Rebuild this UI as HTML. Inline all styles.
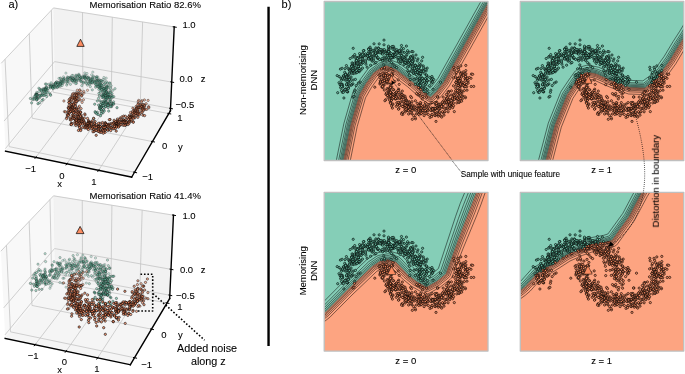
<!DOCTYPE html><html><head><meta charset="utf-8"><style>html,body{margin:0;padding:0;background:#fff;width:685px;height:374px;overflow:hidden}svg{display:block}text{font-family:"Liberation Sans",sans-serif}</style></head><body><svg width="685" height="374" viewBox="0 0 685 374" font-family="'Liberation Sans', sans-serif" font-size="9.5" fill="#000"><defs><style>*{stroke-linejoin:round;stroke-linecap:butt}</style><marker id="mT00" markerUnits="userSpaceOnUse" markerWidth="1" markerHeight="1" overflow="visible"><circle r="1.15" fill="#66c2a5" fill-opacity=".32" stroke="#000" stroke-opacity=".3" stroke-width=".6"/></marker><marker id="mT01" markerUnits="userSpaceOnUse" markerWidth="1" markerHeight="1" overflow="visible"><circle r="1.15" fill="#66c2a5" fill-opacity=".43" stroke="#000" stroke-opacity=".4" stroke-width=".6"/></marker><marker id="mT02" markerUnits="userSpaceOnUse" markerWidth="1" markerHeight="1" overflow="visible"><circle r="1.15" fill="#66c2a5" fill-opacity=".53" stroke="#000" stroke-opacity=".5" stroke-width=".6"/></marker><marker id="mT03" markerUnits="userSpaceOnUse" markerWidth="1" markerHeight="1" overflow="visible"><circle r="1.15" fill="#66c2a5" fill-opacity=".64" stroke="#000" stroke-opacity=".6" stroke-width=".6"/></marker><marker id="mT04" markerUnits="userSpaceOnUse" markerWidth="1" markerHeight="1" overflow="visible"><circle r="1.15" fill="#66c2a5" fill-opacity=".74" stroke="#000" stroke-opacity=".7" stroke-width=".6"/></marker><marker id="mT11" markerUnits="userSpaceOnUse" markerWidth="1" markerHeight="1" overflow="visible"><circle r="1.15" fill="#fc8d62" fill-opacity=".43" stroke="#000" stroke-opacity=".52" stroke-width=".6"/></marker><marker id="mT12" markerUnits="userSpaceOnUse" markerWidth="1" markerHeight="1" overflow="visible"><circle r="1.15" fill="#fc8d62" fill-opacity=".53" stroke="#000" stroke-opacity=".65" stroke-width=".6"/></marker><marker id="mT13" markerUnits="userSpaceOnUse" markerWidth="1" markerHeight="1" overflow="visible"><circle r="1.15" fill="#fc8d62" fill-opacity=".64" stroke="#000" stroke-opacity=".78" stroke-width=".6"/></marker><marker id="mT14" markerUnits="userSpaceOnUse" markerWidth="1" markerHeight="1" overflow="visible"><circle r="1.15" fill="#fc8d62" fill-opacity=".74" stroke="#000" stroke-opacity=".91" stroke-width=".6"/></marker><marker id="mT15" markerUnits="userSpaceOnUse" markerWidth="1" markerHeight="1" overflow="visible"><circle r="1.15" fill="#fc8d62" fill-opacity=".85" stroke="#000" stroke-opacity="1" stroke-width=".6"/></marker><marker id="mB00" markerUnits="userSpaceOnUse" markerWidth="1" markerHeight="1" overflow="visible"><circle r="1.15" fill="#66c2a5" fill-opacity=".32" stroke="#000" stroke-opacity=".3" stroke-width=".6"/></marker><marker id="mB01" markerUnits="userSpaceOnUse" markerWidth="1" markerHeight="1" overflow="visible"><circle r="1.15" fill="#66c2a5" fill-opacity=".43" stroke="#000" stroke-opacity=".4" stroke-width=".6"/></marker><marker id="mB02" markerUnits="userSpaceOnUse" markerWidth="1" markerHeight="1" overflow="visible"><circle r="1.15" fill="#66c2a5" fill-opacity=".53" stroke="#000" stroke-opacity=".5" stroke-width=".6"/></marker><marker id="mB03" markerUnits="userSpaceOnUse" markerWidth="1" markerHeight="1" overflow="visible"><circle r="1.15" fill="#66c2a5" fill-opacity=".64" stroke="#000" stroke-opacity=".6" stroke-width=".6"/></marker><marker id="mB04" markerUnits="userSpaceOnUse" markerWidth="1" markerHeight="1" overflow="visible"><circle r="1.15" fill="#66c2a5" fill-opacity=".74" stroke="#000" stroke-opacity=".7" stroke-width=".6"/></marker><marker id="mB11" markerUnits="userSpaceOnUse" markerWidth="1" markerHeight="1" overflow="visible"><circle r="1.15" fill="#fc8d62" fill-opacity=".43" stroke="#000" stroke-opacity=".52" stroke-width=".6"/></marker><marker id="mB12" markerUnits="userSpaceOnUse" markerWidth="1" markerHeight="1" overflow="visible"><circle r="1.15" fill="#fc8d62" fill-opacity=".53" stroke="#000" stroke-opacity=".65" stroke-width=".6"/></marker><marker id="mB13" markerUnits="userSpaceOnUse" markerWidth="1" markerHeight="1" overflow="visible"><circle r="1.15" fill="#fc8d62" fill-opacity=".64" stroke="#000" stroke-opacity=".78" stroke-width=".6"/></marker><marker id="mB14" markerUnits="userSpaceOnUse" markerWidth="1" markerHeight="1" overflow="visible"><circle r="1.15" fill="#fc8d62" fill-opacity=".74" stroke="#000" stroke-opacity=".91" stroke-width=".6"/></marker><marker id="mB15" markerUnits="userSpaceOnUse" markerWidth="1" markerHeight="1" overflow="visible"><circle r="1.15" fill="#fc8d62" fill-opacity=".85" stroke="#000" stroke-opacity="1" stroke-width=".6"/></marker><clipPath id="cTL"><rect x="324.2" y="1.5" width="163.8" height="159"/></clipPath><clipPath id="cTR"><rect x="520.3" y="1.5" width="163.5" height="159"/></clipPath><clipPath id="cBL"><rect x="324.2" y="192.3" width="163.8" height="158.8"/></clipPath><clipPath id="cBR"><rect x="520.3" y="192.3" width="163.5" height="158.8"/></clipPath><marker id="mPT" markerUnits="userSpaceOnUse" markerWidth="1" markerHeight="1" overflow="visible"><circle r="1.1" fill="#66c2a5" fill-opacity="1" stroke="#000" stroke-opacity="1" stroke-width=".65"/></marker><marker id="mPS" markerUnits="userSpaceOnUse" markerWidth="1" markerHeight="1" overflow="visible"><circle r="1.1" fill="#fc8d62" fill-opacity="1" stroke="#000" stroke-opacity="1" stroke-width=".65"/></marker></defs><rect width="685" height="374" fill="#fff"/> <g> <g> <path d="M 5.55 151.1 L 55.14 89.65 L 53.51 7.94 L 1.22 63.31 " style="fill: #f2f2f2; opacity: .5; stroke: #f2f2f2; stroke-linejoin: miter"/> </g> </g> <g> <g> <path d="M 55.14 89.65 L 170.42 110.81 L 174.21 26.94 L 53.51 7.94 " style="fill: #e6e6e6; opacity: .5; stroke: #e6e6e6; stroke-linejoin: miter"/> </g> </g> <g> <g> <path d="M 5.55 151.1 L 131.66 177.15 L 170.42 110.81 L 55.14 89.65 " style="fill: #ececec; opacity: .5; stroke: #ececec; stroke-linejoin: miter"/> </g> </g> <g> <g> <path d="M 35.82 157.35 L 82.89 94.75 L 82.53 12.51 " style="fill: none; stroke: #c4c4c4; stroke-width: .8"/> <path d="M 66.89 163.77 L 111.33 99.97 L 112.29 17.19 " style="fill: none; stroke: #c4c4c4; stroke-width: .8"/> <path d="M 98.59 170.32 L 140.28 105.28 L 142.61 21.97 " style="fill: none; stroke: #c4c4c4; stroke-width: .8"/> </g> </g> <g> <g> <path d="M 5.05 59.26 L 9.17 146.62 L 134.49 172.29 " style="fill: none; stroke: #c4c4c4; stroke-width: .8"/> <path d="M 29.29 33.58 L 32.11 118.19 L 152.45 141.55 " style="fill: none; stroke: #c4c4c4; stroke-width: .8"/> <path d="M 51.35 10.23 L 53.08 92.21 L 168.81 113.56 " style="fill: none; stroke: #c4c4c4; stroke-width: .8"/> </g> </g> <g> <g> <path d="M 170.52 108.42 L 55.1 87.32 L 5.43 148.61 " style="fill: none; stroke: #c4c4c4; stroke-width: .8"/> <path d="M 171.71 82.07 L 54.58 61.62 L 4.07 121.08 " style="fill: none; stroke: #c4c4c4; stroke-width: .8"/> <path d="M 174.21 26.94 L 53.51 7.94 L 1.22 63.31 " style="fill: none; stroke: #c4c4c4; stroke-width: .8"/> </g> </g> <g> <g> <path d="M 5.55 151.1 L 131.66 177.15 " style="fill: none; stroke: #000000; stroke-width: 1.4; stroke-linecap: square"/> </g> <g> <g> <path d="M 36.24 156.8 L 34.99 158.46 " style="fill: none; stroke: #000000; stroke-linecap: square"/> </g> <g> </g> </g> <g> <g> <path d="M 67.28 163.2 L 66.1 164.9 " style="fill: none; stroke: #000000; stroke-linecap: square"/> </g> <g> </g> </g> <g> <g> <path d="M 98.96 169.74 L 97.85 171.47 " style="fill: none; stroke: #000000; stroke-linecap: square"/> </g> <g> </g> </g> </g> <g> <g> <path d="M 170.42 110.81 L 131.66 177.15 " style="fill: none; stroke: #000000; stroke-width: 1.4; stroke-linecap: square"/> </g> <g> <g> <path d="M 133.45 172.08 L 136.58 172.72 " style="fill: none; stroke: #000000; stroke-linecap: square"/> </g> <g> </g> </g> <g> <g> <path d="M 151.45 141.36 L 154.46 141.94 " style="fill: none; stroke: #000000; stroke-linecap: square"/> </g> <g> </g> </g> <g> <g> <path d="M 167.85 113.39 L 170.73 113.92 " style="fill: none; stroke: #000000; stroke-linecap: square"/> </g> <g> </g> </g> </g> <g> <g> <path d="M 170.42 110.81 L 174.21 26.94 " style="fill: none; stroke: #000000; stroke-width: 1.4; stroke-linecap: square"/> </g> <g> <g> <path d="M 169.57 108.25 L 172.44 108.77 " style="fill: none; stroke: #000000; stroke-linecap: square"/> </g> <g> </g> </g> <g> <g> <path d="M 170.74 81.9 L 173.66 82.41 " style="fill: none; stroke: #000000; stroke-linecap: square"/> </g> <g> </g> </g> <g> <g> <path d="M 173.2 26.79 L 176.21 27.26 " style="fill: none; stroke: #000000; stroke-linecap: square"/> </g> <g> </g> </g> </g> <g id="axes_1"/> <g> <g> <path d="M 5.18 338.34 L 55.12 277.05 L 53.52 195.83 L .85 251.18 " style="fill: #f2f2f2; opacity: .5; stroke: #f2f2f2; stroke-linejoin: miter"/> </g> </g> <g> <g> <path d="M 55.12 277.05 L 169.67 298.55 L 173.46 215.19 L 53.52 195.83 " style="fill: #e6e6e6; opacity: .5; stroke: #e6e6e6; stroke-linejoin: miter"/> </g> </g> <g> <g> <path d="M 5.18 338.34 L 130.33 364.76 L 169.67 298.55 L 55.12 277.05 " style="fill: #ececec; opacity: .5; stroke: #ececec; stroke-linejoin: miter"/> </g> </g> <g> <g> <path d="M 35.1 344.66 L 82.59 282.2 L 82.25 200.46 " style="fill: none; stroke: #c4c4c4; stroke-width: .8"/> <path d="M 66.05 351.19 L 110.95 287.53 L 111.92 205.25 " style="fill: none; stroke: #c4c4c4; stroke-width: .8"/> <path d="M 97.63 357.86 L 139.83 292.95 L 142.17 210.14 " style="fill: none; stroke: #c4c4c4; stroke-width: .8"/> </g> </g> <g> <g> <path d="M 6.45 245.29 L 10.47 331.85 L 134.51 357.73 " style="fill: none; stroke: #c4c4c4; stroke-width: .8"/> <path d="M 29.17 221.42 L 31.97 305.46 L 151.47 329.18 " style="fill: none; stroke: #c4c4c4; stroke-width: .8"/> <path d="M 49.98 199.55 L 51.75 281.18 L 167.03 303 " style="fill: none; stroke: #c4c4c4; stroke-width: .8"/> </g> </g> <g> <g> <path d="M 169.82 295.24 L 55.06 273.81 L 5.01 334.89 " style="fill: none; stroke: #c4c4c4; stroke-width: .8"/> <path d="M 171 269.34 L 54.56 248.56 L 3.67 307.87 " style="fill: none; stroke: #c4c4c4; stroke-width: .8"/> <path d="M 173.46 215.19 L 53.52 195.83 L .85 251.18 " style="fill: none; stroke: #c4c4c4; stroke-width: .8"/> </g> </g> <g> <g> <path d="M 5.18 338.34 L 130.33 364.76 " style="fill: none; stroke: #000000; stroke-width: 1.4; stroke-linecap: square"/> </g> <g> <g> <path d="M 35.52 344.1 L 34.26 345.76 " style="fill: none; stroke: #000000; stroke-linecap: square"/> </g> <g> </g> </g> <g> <g> <path d="M 66.45 350.63 L 65.25 352.32 " style="fill: none; stroke: #000000; stroke-linecap: square"/> </g> <g> </g> </g> <g> <g> <path d="M 98 357.28 L 96.88 359.01 " style="fill: none; stroke: #000000; stroke-linecap: square"/> </g> <g> </g> </g> </g> <g> <g> <path d="M 169.67 298.55 L 130.33 364.76 " style="fill: none; stroke: #000000; stroke-width: 1.4; stroke-linecap: square"/> </g> <g> <g> <path d="M 133.48 357.51 L 136.58 358.16 " style="fill: none; stroke: #000000; stroke-linecap: square"/> </g> <g> </g> </g> <g> <g> <path d="M 150.48 328.98 L 153.46 329.57 " style="fill: none; stroke: #000000; stroke-linecap: square"/> </g> <g> </g> </g> <g> <g> <path d="M 166.07 302.82 L 168.94 303.37 " style="fill: none; stroke: #000000; stroke-linecap: square"/> </g> <g> </g> </g> </g> <g> <g> <path d="M 169.67 298.55 L 173.46 215.19 " style="fill: none; stroke: #000000; stroke-width: 1.4; stroke-linecap: square"/> </g> <g> <g> <path d="M 168.87 295.06 L 171.73 295.6 " style="fill: none; stroke: #000000; stroke-linecap: square"/> </g> <g> </g> </g> <g> <g> <path d="M 170.03 269.17 L 172.93 269.69 " style="fill: none; stroke: #000000; stroke-linecap: square"/> </g> <g> </g> </g> <g> <g> <path d="M 172.47 215.03 L 175.46 215.51 " style="fill: none; stroke: #000000; stroke-linecap: square"/> </g> <g> </g> </g> </g> <g id="axes_2"/> <path d="M92.8 72.1L84.8 72.9L65.9 73.1L87 73.5L78.9 74.2L91.6 74.8L78.3 74.8L75.9 75.1L72.9 75.4L76.2 75.4L79.5 75.4L84.7 75.4L72 75.4L86 75.6L78.2 75.7L84.1 75.9L93.1 75.9L82.6 76.2L79.7 76.4L79.3 76.5L85 76.7L75.5 76.7L96.6 76.7L67.4 76.8L77 76.8L63.5 76.8L86.4 76.8L70.3 76.9L96.7 76.9L77.3 76.9L84.2 76.9L93.8 76.9L97.8 77L88.2 77.2L82.8 77.3L94.8 77.3L88.4 77.3L80.8 77.4L84.7 77.4L70.1 77.5L74.2 77.5L67.9 77.5L103.9 77.5L71.4 77.6L80.6 77.7L68 77.8L87.6 77.8L85.6 77.9L84.7 77.9L96.8 77.9L70.7 78L91.9 78L92.3 78L83.1 78L60.5 78.1L81 78.1L76.1 78.1L82.5 78.1L106.2 78.1L63.9 78.2L85.4 78.2L70.1 78.2L89.9 78.2L72.4 78.3L60.2 78.3L70.1 78.4L58.9 78.4L73 78.4L84.9 78.5L79.8 78.5L67.1 78.5L96.7 78.6L88.4 78.6L88.9 78.6L70.1 78.7L96.8 78.7L73.7 78.7L73.9 78.8L64.9 78.8L79.3 78.9L63.8 78.9L91.9 78.9L79.2 78.9L73.4 79L85.6 79L67.4 79.1L88.4 79.2L92.6 79.2L99.2 79.3L81 79.4L61.6 79.5L86.1 79.5L63.1 79.5L103 79.5L75.5 79.6L76.9 79.6L63.4 79.6L92 79.7L88.8 79.7L66.8 79.7L93.5 79.7L73.9 79.9L70.8 79.9L90.4 80L67.6 80L74.1 80.1L91 80.1L72.2 80.2L104.9 80.2L75.2 80.3L78.2 80.3L62 80.3L74.4 80.4L99.1 80.4L96.2 80.4L77 80.4L99.5 80.5L100.9 80.6L101 80.6L71.7 80.6L76.2 80.6L97.5 80.7L72.6 80.7L74.4 80.7L63.3 80.7L93.8 80.8L96.5 80.8L67.9 80.8L80.4 80.8L90.2 80.9L98 80.9L101.9 80.9L72.5 81L81.3 81L90 81.1L60 81.1L98.3 81.1L96.1 81.1L64.5 81.1L90.6 81.2L63.2 81.3L86 81.3L80.9 81.3L67.8 81.4L93.2 81.4L102.2 81.4L90 81.4L60.9 81.5L92.4 81.5L73.8 81.5L94.6 81.5L61.2 81.5L56.8 81.6L65.4 81.6L76.3 81.6L87.9 81.7L97.7 81.8L100 81.8L106.8 81.8L68.9 81.8L103.3 81.9L96.7 81.9L83.7 81.9L60.1 82L99.5 82L81.1 82L95.7 82L66.7 82L56.2 82.3L73.3 82.3L62.3 82.3L89.2 82.3L83.1 82.4L94.4 82.4L94.9 82.5L57.4 82.6L85.8 82.6" fill="none" marker-start="url(#mT00)" marker-mid="url(#mT00)" marker-end="url(#mT00)"/><path d="M91.3 82.6L92 82.7L51.1 82.8L61.1 82.8L58.5 82.9L105.6 82.9L55.7 82.9L57.8 82.9L109.5 83L61.3 83L107.2 83L92.2 83L90.1 83.1L55.3 83.1L63.3 83.1L58.8 83.2L110.1 83.2L100.3 83.2L83.4 83.2L55.6 83.2L100.1 83.2L76.5 83.3L67.3 83.3L86.4 83.4L62.5 83.4L75.6 83.5L60.5 83.5L88.5 83.7L94.8 83.7L104.6 83.9L45.4 84L46.3 84.1L97.4 84.1L89.7 84.2L60.5 84.2L55.1 84.2L70.4 84.3L60.2 84.3L55.6 84.3L59.1 84.4L101.2 84.4L100.9 84.4L48.5 84.4L96.4 84.5L95.8 84.5L98.1 84.5L57.5 84.6L53 84.6L99.5 84.6L103.6 84.7L50 84.9L87.4 85.1L66.7 85.1L53.5 85.2L56.4 85.3L62.2 85.4L108.5 85.5L101.6 85.5L81.8 85.6L50.5 85.6L58.8 85.7L111.1 85.7L98.8 85.7L51.2 85.8L99.8 85.8L100.8 85.9L106.6 85.9L102 85.9L53.5 86L98.6 86.2L60.5 86.2L56.4 86.2L59.3 86.2L53.9 86.3L96 86.3L51.4 86.4L99.6 86.4L107.6 86.4L52.9 86.4L58 86.4L97.6 86.5L50.3 86.6L90.3 86.6L46.1 86.7L106.6 86.8L52.2 86.8L104.3 86.8L54.3 87L50.3 87L98.5 87.1L57.2 87.1L53.2 87.1L46.5 87.3L95.6 87.3L106.9 87.3L106.9 87.4L57.2 87.6L109 87.7L101.9 87.7L52.5 87.8L46.5 87.8L55 87.9L52.6 88L101.5 88L100.1 88.1L110.7 88.1L50.2 88.1L100.2 88.1L38.8 88.2L100.3 88.3L104.1 88.3L99.6 88.3L48.3 88.3L45.2 88.4L104.2 88.5L104.6 88.5L45.4 88.6L53.2 88.6L43.7 88.6L103.5 88.7L106.9 88.7L115 88.7L39.7 88.9L106.2 88.9L45.7 88.9L42.8 89.1L103.2 89.2L101.3 89.3L106.1 89.4L98.8 89.4L46.8 89.5L46.2 89.6L45.7 89.7L105.7 89.7L101.8 89.7L43.5 89.7L40.5 89.8L92.3 89.9L44.8 89.9L43.9 90L45.3 90L41.5 90L104.8 90L112.9 90.3L47.7 90.5L109.9 90.5L44.8 90.6L41.3 90.7L103.3 90.8L104.9 90.8L104.1 90.9L100.8 91L46.6 91.1L106.6 91.3L43.7 91.3L38.9 91.7L110.2 91.8L45.3 91.8L106.3 91.9L103.1 91.9L41.7 91.9L106.6 91.9L44.6 92.1L100.4 92.2L106.2 92.3L36.7 92.4L110.8 92.6L49.1 92.8L108.9 92.8L45.2 92.9L47.1 92.9L42.4 93.1" fill="none" marker-start="url(#mT01)" marker-mid="url(#mT01)" marker-end="url(#mT01)"/><path d="M106.6 93.2L103.7 93.3L107.6 93.3L98.9 93.4L105.3 93.5L112 93.7L36.6 93.8L108.1 94.2L36.9 94.3L109.1 94.3L108.1 94.4L50.4 94.4L35.6 94.4L46 94.5L103 94.5L42.3 94.5L105.3 94.5L36.7 94.5L35.9 94.6L40.3 94.9L37.7 94.9L37 94.9L101.7 95L103.9 95L44.1 95L104.5 95.1L50.6 95.3L36.7 95.4L42.3 95.4L41 95.5L104.6 95.5L43.8 95.6L105.3 95.7L105.6 95.8L39.5 95.8L99.4 95.8L111.4 95.8L35.6 95.8L107.3 96L108.7 96.2L102.3 96.2L35.8 96.3L112.4 96.4L46.7 96.5L103.3 96.5L34.2 96.7L113.8 96.7L108.4 96.8L110.2 96.9L103.7 96.9L108.8 97L40.1 97L107.7 97.1L110.1 97.2L107.3 97.2L105.5 97.3L105.3 97.4L102.1 97.5L109.2 97.6L36.9 97.6L106.7 97.6L112 97.7L37.1 97.9L39.1 98L103.8 98.1L35.8 98.2L107.2 98.3L98.5 98.4L37 98.4L33.3 98.5L30.4 98.5L106.1 99L34.4 99.1L37.2 99.1L43 99.4L106.6 99.7L33 99.7L110.5 99.7L37 99.9L36.5 99.9L105.6 100L109.6 100.3L41.9 100.5L100.1 100.9L97.3 101L104.3 101.1L103.1 101.2L110.4 101.4L105.7 101.8L106.1 101.9L113.6 101.9L109.8 102.1L101.3 102.3L105.1 102.6L39.7 102.7L106.3 102.8L31.6 102.9L108 103.1L103.4 103.2L103.5 103.3L111.5 103.3L107.9 103.5L101.8 103.6L112.2 103.7" fill="none" marker-start="url(#mT02)" marker-mid="url(#mT02)" marker-end="url(#mT02)"/><path d="M38 103.7L102.9 103.8L113.1 103.9L105 104.1L113.7 104.1L94.7 104.2L108.3 104.2L100.4 104.6L108.2 104.8L108.3 104.8L107.2 105L98.6 105.1L111.6 105.3L103.5 105.5L108 105.5L110.7 105.6L102 105.8L105.7 106.2L111.6 106.6L110.6 106.6L105.5 106.6L100.7 106.8L99.5 107L101.5 107.1L101.2 107.2L100.8 107.5L103.9 107.5L117 107.7L99.9 107.7L108.1 107.7L99.5 108.7L100.3 108.9L101.1 109.7L103.6 109.8L101.5 110.1L104.3 111L108.7 111.1L95.1 111.7L101.1 111.7L97.3 112.2L95.4 112.7L103 112.8L101.4 113.5L96.7 113.7" fill="none" marker-start="url(#mT03)" marker-mid="url(#mT03)" marker-end="url(#mT03)"/><path d="M98.1 114.6L100.5 115.7L93.7 118.6" fill="none" marker-start="url(#mT04)" marker-mid="url(#mT04)" marker-end="url(#mT04)"/><path d="M79.8 89.8L77.3 90.2L87.5 90.3L79.6 90.4L83.8 91.4L81.1 91.5L76.2 92.8L84 93.1" fill="none" marker-start="url(#mT11)" marker-mid="url(#mT11)" marker-end="url(#mT11)"/><path d="M79 93.2L77.9 93.2L73.8 93.4L75.9 93.8L72.6 94L78.8 94.2L75.5 94.3L77 94.4L81.8 94.5L76.8 94.5L80.4 94.7L74.9 95.1L76.6 95.2L72.2 95.2L76.8 95.4L82 95.4L81.5 95.8L72.6 96.7L78.6 97.1L71.1 97.1L77.4 97.2L74.1 97.3L76 97.4L75.5 97.6L76.5 97.7L73.7 97.9L76.5 97.9L74.3 97.9L71.8 98L72.2 98L76.9 98.4L70.3 98.5L74.9 99L69.6 99.1L74.7 99.2L75 99.5L71.5 99.6L79.4 99.6L83.4 99.8L75.6 99.8L68.9 99.9L80.3 100L144.4 100L138.7 100.4L75 100.4L148.1 100.4L73.5 100.5L141.9 100.7L77.3 100.7L77.3 100.9L63.9 101L71.2 101.2L76.8 101.4L76.3 101.5L70.3 101.6L138.2 101.7L141.5 101.8L69.6 101.9L75.1 102.1L68.9 102.4L82.1 102.4L69.3 102.5L68.9 102.6L74.3 103.2L74.6 103.5L146.1 103.7" fill="none" marker-start="url(#mT12)" marker-mid="url(#mT12)" marker-end="url(#mT12)"/><path d="M75.7 103.7L73.5 103.7L138.5 103.9L71.8 104.2L72.2 104.3L137.8 104.5L142.1 104.6L143.4 104.6L140.3 104.6L71.6 104.7L73.5 104.8L144.4 105.3L140.8 105.4L69 105.5L144.6 106.1L71.1 106.2L79.4 106.2L75.7 106.2L72.3 106.3L75.3 106.3L136.1 106.5L141 106.5L72.4 106.5L148.6 106.7L141.9 106.9L141.7 106.9L69.1 107L71.4 107.1L138.6 107.2L72.3 107.3L143.9 107.3L72.3 107.3L139 107.6L140 107.6L72.7 107.6L136.9 107.6L148.8 107.7L138.4 107.7L68.2 107.7L78.4 107.9L72.7 108L143 108L132.9 108.2L68.5 108.2L68.8 108.2L136.6 108.2L137.6 108.3L71 108.4L142.3 108.4L70.8 108.6L81.1 108.6L136.5 108.7L75.6 108.7L72.9 108.8L76.6 108.9L143.8 109.1L74.4 109.1L70.6 109.1L142.6 109.1L73.2 109.3L145.1 109.3L75.1 109.3L78.1 109.3L137.2 109.4L71 109.4L76.3 109.4L146.6 109.4L143.1 109.5L74.7 109.6L138 109.6L69.4 109.8L70.9 110L134.5 110L72.1 110.1L135.2 110.2L75.9 110.3L141.2 110.4L133.9 110.4L71.7 110.4L143.3 110.7L137.8 110.7L68.3 110.8L73.2 110.9L135.4 111.3L132.6 111.3L137.7 111.4L79.4 111.5L70.4 111.5L64.5 111.6L70.9 111.6L142.1 111.7L70.2 111.7L77.8 111.8L65.5 111.9L72.6 112L68.1 112.1L138.1 112.1L80.7 112.2L80.4 112.2L80.2 112.2L76.7 112.2L135 112.2L78.4 112.3L134.5 112.3L130.5 112.4L74.8 112.4L135.9 112.5L73.1 112.5L134.1 112.6L69.1 112.7L142 112.7L74.3 112.8L73.6 112.9L77.8 112.9L132.2 113L138.6 113L69.2 113.1L135.1 113.3L138.6 113.5L136.3 113.5L75.9 113.5L137.4 113.5L139.8 113.5L78.4 113.7L135.5 113.8L132.5 113.9L137.3 113.9L84.8 113.9L79.1 114.1" fill="none" marker-start="url(#mT13)" marker-mid="url(#mT13)" marker-end="url(#mT13)"/><path d="M133.8 114.4L67.7 114.4L138.3 114.5L68.5 114.8L85 114.9L139.3 114.9L67.3 114.9L81.2 115L77.5 115.2L142.9 115.2L79.4 115.2L129.6 115.2L72 115.4L68.3 115.6L144.6 115.6L73.4 115.7L136 115.8L133.1 115.9L73.5 116L123.7 116.1L80.6 116.1L80.5 116.2L75.1 116.2L125.4 116.3L131.9 116.3L130.9 116.4L78 116.4L77.3 116.6L128.8 116.6L73.8 116.7L121.9 116.9L130.7 116.9L130 117L78.5 117.1L67 117.2L137.9 117.3L133.6 117.4L82 117.5L73.5 117.7L130.4 117.8L130.1 117.8L132.6 117.8L129.8 117.9L72.3 117.9L134.9 117.9L127.3 117.9L70.2 118.1L120 118.1L77 118.2L84.3 118.2L133.3 118.3L93.6 118.3L87.5 118.4L78.6 118.4L73.2 118.5L66.6 118.6L81.9 118.7L82.1 118.8L74.4 118.8L76.5 119L117.4 119.1L130 119.3L128.6 119.3L110.1 119.5L81.7 119.5L131.2 119.5L125.7 119.6L122 119.6L77.9 119.6L109.3 119.7L123.6 119.8L119.8 119.8L75.7 119.8L70.3 119.9L75.5 119.9L79 120L81.1 120L81.9 120L79.4 120.1L123.3 120.1L71.1 120.1L78.9 120.2L76.4 120.2L114.1 120.3L79 120.5L78.8 120.6L83.6 120.7L88.6 120.7L124.5 120.8L79.2 120.8L81.3 120.8L92.2 120.9L76.3 120.9L117.6 121L125.1 121L78.8 121.2L131.3 121.2L129.7 121.3L124.6 121.3L95 121.4L116.7 121.4L88.5 121.4L117.3 121.5L84.1 121.5L115.6 121.6L129 121.6L133.2 121.7L122 121.7L82.1 121.8L126.7 121.8L118.6 121.8L126.5 121.9L119.7 121.9L124.7 121.9L123.3 121.9L81.1 122L120.9 122.1L74.8 122.2L78 122.2L123.7 122.2L133.3 122.3L88.6 122.3L113.8 122.4L84.3 122.4L91.6 122.4L102.5 122.5L90 122.5L76.3 122.5L89 122.5L76.9 122.6L122.3 122.6L89.3 122.6L128.7 122.6L124.2 122.7L105.3 122.7L121 122.8L116.7 122.9L80.8 122.9L126.2 122.9L76.4 123L116.6 123L79.6 123L94.4 123L113.8 123.1L105.3 123.1L125.1 123.1L118.5 123.2L99.9 123.2L84.3 123.2L98.5 123.3L90.2 123.3L129.1 123.3L71.3 123.4L89.1 123.4L87.6 123.4L111.2 123.4L90.9 123.5L72 123.5L105.6 123.6L91.6 123.6L117.1 123.6L88.6 123.7L115.5 123.7L112.9 123.7L78.2 123.8L116.6 123.8L80.3 123.8L94.7 123.9L86.5 123.9L74.9 123.9L88.4 124L87.6 124.1L82.4 124.1L102.5 124.2L117.1 124.2L109.5 124.2L80.7 124.2L108.2 124.2L116.6 124.3L105.3 124.5L70.9 124.5L71.4 124.6L128 124.6L112.2 124.7L119.2 124.7" fill="none" marker-start="url(#mT14)" marker-mid="url(#mT14)" marker-end="url(#mT14)"/><path d="M125.6 124.8L120.9 124.8L106.9 124.8L96.4 124.8L125.6 124.8L106.4 124.8L84.8 124.9L86.3 124.9L91.5 125.1L114.3 125.2L108.6 125.2L123.3 125.3L117.3 125.3L89.5 125.3L125 125.3L75.9 125.3L89.8 125.3L118.5 125.4L115.8 125.4L78.7 125.4L94.6 125.6L87.8 125.6L108 125.7L115.8 125.8L85.7 125.9L98.3 125.9L86.4 125.9L89.4 125.9L79.3 126L104.9 126L116.5 126.1L109 126.1L119.2 126.1L87.1 126.1L116 126.1L94 126.2L99.6 126.2L116.5 126.3L100.1 126.4L99.3 126.4L114.5 126.4L105.1 126.4L92.1 126.6L100 126.7L93.2 126.7L93.3 126.7L100.2 126.7L107 126.7L103 126.8L102.7 126.8L86.9 126.8L105.3 126.9L97.9 126.9L89.7 127.1L116.6 127.1L97.1 127.1L88.1 127.1L118.4 127.1L85.2 127.1L105.2 127.2L98.5 127.2L105.3 127.2L94.7 127.2L109.2 127.2L82.8 127.3L96.2 127.4L103.7 127.4L110.8 127.4L79.6 127.6L103.4 127.6L104.9 127.7L111.9 127.8L87.6 127.8L92.4 127.9L113.3 127.9L111.2 128L85 128L87.1 128.1L99.3 128.3L98.9 128.6L115.1 128.6L113.1 128.8L91.7 128.8L98.7 129.4L80.7 129.4L107.7 129.4L88.3 129.5L102.6 129.5L94 129.7L102.4 129.7L108.3 130.1L107.7 130.1L95.7 130.1L104.9 130.2L102.4 130.3L105.1 130.3L78.5 130.4L80.7 130.5L96.2 130.5L110.7 130.6L99.8 130.9L98.4 130.9L103.3 131.1L116.2 131.1L98.3 131.4L94.2 131.4L93 131.8L99.9 132.2L101.1 132.3L105.1 132.3L103.3 133.2L96.2 135.3" fill="none" marker-start="url(#mT15)" marker-mid="url(#mT15)" marker-end="url(#mT15)"/><path d="M80.5 39.2L76.8 46.4L84.2 46.4Z" fill="#fc8d62" stroke="#000" stroke-width=".7" stroke-linejoin="miter"/><path d="M83.4 261L64.5 259.8L71.7 269.2L85.1 275.2L91.2 256.6L77 265.7L73 274.6L85.5 258.9L70.8 265.8L64 278.2L62.9 278.3L74.5 264L90.2 263.1L76.1 270L78.2 264L78 268.5L69 271.5L78.5 267.8L74.2 267.7L62.4 267.3L84.7 263.2L83.3 262L78.6 273.9L83.5 271.8L75.8 266.7L91.7 263.1L76.9 261.6L95.2 266.1L74.9 259.6L79.4 269.2L77.4 254.7L66.8 266.7L65.8 275.2L95.5 269.8L83.4 266.4L83.7 263.3L92.4 264.8L97.8 274.6L96.4 265.2L87.6 275.2L69 270.1L96.2 279L66.2 262.1L70.2 265.4L68.9 267.3L66 268.3L66.8 265.2L75.3 280.3L102.5 266L94.8 279.4L59.4 265.5L96.4 281.8L95.3 262.4L93.4 263.7L84.1 266.6L72.8 272.6L84.4 265.5L92.5 277.1L87.1 268.4L81.2 258.5L59.1 265.6L100.6 278L81.5 262.5L88.6 266.7L99.6 276.4L71.8 266.3L69.1 260L82.9 260.9L62.4 270.4L79.5 262.2L71.3 265.5L69.5 264L91 265.2L86.9 261.6L62.6 283.3L66.3 267.6L62 268.6L89.1 272.1L82.8 255.1L70.6 273L74.9 263.5L87.1 268.5L87.1 260.9L72.3 266.3L104.8 264.6L57.8 262.9L72.5 264.8L90.5 263.1L68.9 263L79.8 275.2L87.6 264.9L86.2 261.6L79.3 272.9L97.7 272.2L78 265.1L63.5 272.9L77 270.2L98.3 278.2L62.7 260.7L57 278.9L81.8 261.3L78.1 264.3L90.7 267.9L79.8 266.2L45 281.9L75.7 266.5L90.6 264.5L66 287.2L99.7 286.4L79.8 260.5L57.7 277.7L66.8 272.3L95.3 263L101.7 266.8L89.7 268.5L54.9 278.4L83.6 261.4L62.3 269.1L54.6 277.4L84.4 263.2L72.6 261.4L71.4 269.8L59.9 271L95.3 270.2L48 281.6L94.9 268.8L88.8 270.9L55.4 273.6L99.7 269.6L71.5 268.2L60.5 262.9L55.9 270.6L61 266L66.5 264.9L92.2 265.1L50.8 286.2L86.7 272.1L54.9 275.1L88.8 271.3L62.3 269L81.2 257.7L72.9 264.9L75.9 266.1L73.3 265.5L66.8 266.9L91.3 261.9L80 272L95.5 272.4L61.4 271.9L50.3 272.7L75 265.7L64.4 268.7L72.7 268.8L93.3 270L71.1 263.4L89 267.1L103.6 265.2L54.4 278L105.5 271.5L49.9 288.3L86.3 283.1L74.3 260.7L96.2 279.2L95.5 258L100.9 268.9L82 271.5L59.2 268.6L59 265L98.2 264.9L89.4 266.8L102 269.7L92 266.9L74.6 274L91.2 267.1L66.4 272.5L82.6 267.8L75.5 272.7L69.6 259.2L72.2 268.5L84.9 258.3L94.5 268.6L88.6 276.5L61.6 271.8L59.9 282.5L108.8 273.7L56.5 268.2L98.5 285.3L60.1 269.1L102.4 278.6L96.8 263.5L99.1 272.6L59.4 274.7L87.4 273.6L69.5 274.9" fill="none" marker-start="url(#mB00)" marker-mid="url(#mB00)" marker-end="url(#mB00)"/><path d="M49.4 275.4L98.9 271.9L58.3 273.8L80.1 261.9L67.9 264.3L65.7 264.9L90.1 268.7L74 258.3L104.4 270.3L89.3 283.7L98.8 265.4L49.8 280.8L97.1 262.4L59.6 272.2L89 269.4L103.1 284.6L82.3 269.4L97 274.9L52.8 277.9L84.6 266.5L106 269.3L100 274L93.7 266.2L88.1 265L98.3 274.2L93.3 265.1L56.7 271.1L94.7 272.8L85.3 267.8L52.1 283.8L53.3 277.1L54.7 269.6L97.7 277.1L60.3 264L73.1 255.6L90.8 264.2L58.6 276L91.1 265.2L60 257.6L57.8 263.8L108.3 265.7L84.8 257.7L52.8 270.8L95.2 270.2L49.8 272.2L80.8 273.4L58 272.1L105.4 278.8L102.1 287.7L103.5 267.3L59.4 263.3L93.7 265.8L47.9 280.9L55.7 273.2L53.7 275.7L103.1 284.2L61.3 269.8L55.6 269.2L97.5 274.8L56.5 276L46 277.3L100.9 273L52.1 264.8L45.5 271.9L98.5 280.7L50.6 270.1L105.4 271.2L51.4 271.4L107.8 278L44.7 277.1L100.5 269.2L45 283.1L94.6 275.3L52.1 268.8L99 277.8L103.5 279.8L99.2 278.5L109.6 278L52.5 271.1L98.7 268.1L105.8 274.8L40.2 279.9L110 268L42.4 277.1L44.4 280L43.2 274.8L105.6 288.5L45.7 278.1L106.5 269L105 280.4L96.6 268.4L51.7 270.3L46.2 276.6L105.8 271.5L103.7 281.8L100.3 278.8L108.8 283.9L95 266.7L97.8 278.9L56.4 269.3L49.5 271L102.4 276.1L43.5 277.6L97.4 269.4L99.8 264.8L45.1 284.3L113.9 276.2L47.3 279L45.1 253.7L43 275.4L40.9 278.9L103 273.1L99.2 272.3L44.7 270.8L57 262.8L46.1 279.9L105.9 273.4L36.5 283.5L100.8 276.7L45.1 273L39.1 269.5L107.5 260.1L102.1 283.9L91.4 275.7L100.8 267.6L45 269.1L48.8 283.7L43.3 277.6L44.3 274.5L105.1 271.7L99.8 279.2L45.6 261.6L106.6 288.2L38 264.2L44.9 282.7L102.7 287.4L40.9 271L111.8 276.2L52.3 265.6L105.3 281.7L98.5 294.5L54 261.7L100.5 264.7L42.1 280.3L35.8 285.5L36.6 285.4L111 286.3L103.9 275L37 286.5L37.6 286.4L103 290.3L98.1 283.1L108 281.3L44.1 275.1L41.2 274.2L105.6 277.7L101.4 293.6L105.4 276.9L104.4 282.9" fill="none" marker-start="url(#mB01)" marker-mid="url(#mB01)" marker-end="url(#mB01)"/><path d="M104.8 267.7L46.6 276.6L50.1 282.3L103.2 271.8L38.3 271.1L102.4 270.9L36.6 280.4L42 281.1L107.2 283.5L99.6 274.2L109.9 276.5L36.2 276.5L42.1 282.9L35.4 278.8L105.7 278.1L107.2 281.3L100.9 283.5L39.3 282.1L35.7 283.7L103.7 282.9L35.9 290.6L46.5 284.2L43.8 278.4L39.1 289.3L102.2 279.5L104.7 284.2L103.8 283.1L36.4 278.3L108 288.1L109.3 268.5L108.3 278L103.5 303.1L106.9 288.1L45.5 274.8L105.8 290.2L110.5 282.6L107.9 283.4L39.8 274.6L104.7 287.2L109.2 286.9L104.5 276.1L40.6 275.9L43.4 276.2L106.4 290L111.2 288L37 286.4L103 284.4L50.1 275L104.5 285.9L39.8 280.8L37 283.3L104.5 278.1L106.5 283.6L102.6 280.8L111.6 280.7L106.5 278.9L33.2 284.1L34.4 286.3L35.2 273.5L30.4 283.4L101.4 282.8L107.6 279.9L33.8 275.2L105.9 290.7L99.4 294.6L41.9 289.3L110.7 303.4L109.4 279.2L108.4 281.1L97.9 283.4L102.5 294.2L37.1 281.8L113 276.4L109.7 293.3L105.5 294.3L109.8 286.3L103.1 279.6L100.7 295.2L36.3 281.5L102.8 297.7L36.4 272.7L96.7 288.7L112.9 301.2L36.8 280.1L105.4 279.7L32.8 278.1L31.8 290.1L105 283.1L107.4 295L109.1 291.4L108.9 283.9L107.2 295L42.6 276L101.2 294.5L113 287.8L102.3 294.3L110.9 305L104.5 288.4" fill="none" marker-start="url(#mB02)" marker-mid="url(#mB02)" marker-end="url(#mB02)"/><path d="M105.7 288.7L39.6 284.3L110.9 297.8L94.3 292.1L107.7 294.6L103 287.8L104.5 290L112.5 289.4L98.2 292.8L99.5 302.5L38 284.1L103 293.9L105.1 279.5L106.7 291.4L100.3 297.3L111.7 286.2L110 296.8L105.2 294.8L107.5 292.2L99.9 303.5L116.4 298.4L100 285.8L105 293.3L107.7 286.3L107.8 283.3L110.2 288.9L107.7 295.2L101.5 286.6L103.5 292.1L99.1 289.5L101.1 288.8L101.1 299.1L108.3 302.8L100.5 288.1L99.1 292.5L100.8 286.3L103.3 293.3L100.8 298.8L96.6 305.4L97.1 299.4L100.8 290L104 294.3L98 307.1L102.7 299.9L100.3 310.1L95.2 297.3" fill="none" marker-start="url(#mB03)" marker-mid="url(#mB03)" marker-end="url(#mB03)"/><path d="M94.9 293L101.2 295.6L93.8 299.2" fill="none" marker-start="url(#mB04)" marker-mid="url(#mB04)" marker-end="url(#mB04)"/><path d="M78.4 291.5L76.5 278.2L79 274.9L77.3 286.4L80.4 279.6L75.3 285.8L75.6 281.5L86.6 271.6L78.8 271.4L75 285.6L76.2 286.2" fill="none" marker-start="url(#mB11)" marker-mid="url(#mB11)" marker-end="url(#mB11)"/><path d="M76.3 287.2L83 272.3L83.2 278.2L76 285.6L73.1 277.8L78.1 279.3L80.9 285.6L72 276.9L75.5 289.4L73.2 300.6L71.3 296.4L75.3 297.6L72.1 284.7L79.7 277.4L81.1 276.7L73.7 286.4L75 286.7L73.2 287.2L76.3 273.8L74.5 290.3L78.1 283L71.6 275.6L74.2 274.7L68.6 292.3L76 284L81.3 274.4L76.4 285.5L71.4 283.5L76.8 280.8L70.5 279.3L75.9 280.3L73.7 280.2L74.3 284.6L74.5 285.9L76.9 290.8L68.8 296.7L76.4 292.2L74.6 288.1L69.2 282.7L79 285.2L69.8 279.8L82.9 284.6L74 296.1L140.5 294.2L137.7 288.3L71.7 275.4L76.9 285.4L143.5 286.1L69.3 288.7L72 297.3L74.8 288.8L79.8 280.3L63.6 282.9L75.4 293.5L139.9 306.2L68.6 286.4L141.1 283.7L76.6 310.2" fill="none" marker-start="url(#mB12)" marker-mid="url(#mB12)" marker-end="url(#mB12)"/><path d="M81.6 285.8L73.3 293.8L70.8 279.5L72.3 299.5L69.9 281L74.3 288.1L137.4 284.6L75.9 280.3L139.9 298.3L143.6 301L139.4 294.8L73.2 287.3L147.4 279L72.2 299.5L137 292.4L68.9 281.1L79.2 295.5L71.5 287.2L71.4 288.4L141 300.4L142.6 291.5L78 305.1L68.8 290.2L71 300.6L75.5 292.4L141.4 289.8L140.8 298.4L138.1 300.6L136.1 300.2L143 299.2L75.1 291.6L72.6 295.7L136.7 301.6L70.8 297.7L147.9 298.7L78.3 295.1L71.2 291.7L139.2 297.1L72.6 294.8L80.4 310.7L145.5 282.4L68.1 292.9L74.4 297.6L135.4 291.6L70.9 286.4L68.5 293.7L147.9 292.6L70.6 297.2L77.8 307.2L137.9 280.8L135.8 298.2L143.7 286.2L72.1 299.6L72.9 294.6L141.8 299.1L73.3 301.3L141.5 296.3L68.4 300.5L73.2 307L72.1 283.6L76.2 294.7L71 294.3L133.1 301.5L142.3 292.8L74.9 305.4L142.5 302.7L68.9 284.7L145.8 298.1L132.3 292.6L68.7 289.1L80.2 304.4L143.1 296.1L137.8 290.7L138 288.6L76.7 303.4L74.9 292.4L136 291.7L134.5 298.7L73.1 291.7L72.1 284L75.8 295.1L136.6 294.8L136.5 311.3L75.4 288.4L70.9 298.9L64.6 298.2L74.6 291.1L69.4 290.9L65.7 298.3L137.4 293.9L78.4 299.9L134.8 299.5L133.8 303.2L68.2 298.4L79.2 306.1L135.2 303.6L73.7 301.1L76 303.5L137.9 306.6L80.9 285.4L137.5 301.4L71.6 291.1L129.9 301.5L77.7 308.4L70.2 295.3L70.8 288.4L69.2 298.1L70.4 294L144.6 290L68.6 308.6L132.1 296.6L67.9 303.6L141.5 297.6L72.6 294.7L137.2 296L67.6 304.6L85 305.4L135.7 302.7L78.2 310.2L73.6 307.4L80.7 309.1" fill="none" marker-start="url(#mB13)" marker-mid="url(#mB13)" marker-end="url(#mB13)"/><path d="M78.4 299.4L74.3 295.8L138.1 300.1L79.5 304.4L142.7 286.1L140.8 289L131.7 298.1L133.2 303.2L138.7 305.3L139.3 299.8L67.4 309L134.2 286.3L137.4 289.3L141.5 296.2L136.9 298.8L134.6 294L78.7 308.8L72.1 302.1L133.7 295.1L78.8 313L77.7 292.2L68.7 298.1L79.2 286.4L129.1 302.8L77.2 310.4L144 304.7L80.6 288.5L129.5 308.7L133.1 310.4L82 315.1L131.4 306.1L130.4 306.4L82.3 312.1L71.6 316.2L135.5 303.6L82.1 310.9L123.4 303.6L134.8 294L69.2 289.2L84.8 293.2L129.4 309.8L132.8 311.4L129.9 309.1L81.2 296.1L119.7 309.7L132.7 302.1L79.5 316.6L126.8 308.9L128.4 304.2L82.1 313.7L130.7 314.5L72.5 304.8L125.1 301.8L74 299.9L121.6 303.5L79.1 314.7L75.2 298.2L70.5 304.7L76.7 312.9L129.6 307.1L130.3 303.9L76.8 307.9L84.5 305.3L80.6 297.6L125.3 312.2L132.2 291.6L142.5 296.7L138 293.8L73.7 301.1L135.2 289.9L134.5 305.1L132.2 304.3L73.6 293.8L109.2 309L79.3 307.8L93.7 302.5L88.8 310.8L124.8 314L137.5 301.2L77.4 294.6L117.2 306L123 309.7L117.4 312.6L70.7 305.7L79.1 311L123.3 308.1L121.8 307L109.9 305.8L78.2 304.4L124.2 311L90.5 318L124.3 312.6L128.6 313.6L79.3 306.5L119.6 306.3L114 307.6L73.4 298.6L79.6 304.3L88.9 317.5L84.4 309.5L82.1 294.9L84.6 312.6L123.4 314.2L128.3 304L82.4 310.3L88.7 309.3L125.2 323.4L115.4 311.3L75.8 302.8L118.5 312.2L83.8 305.9L79.2 303.3L116.4 318.2L113.7 315.1L94.5 313.5L105.3 314.1L76 300.7L81.3 301.6L89.2 311L116.6 308.7L129.8 301.6L126.5 309.9L82.8 315.5L87.6 294.9L95.2 306.3L90.2 309.8L76.7 308.9L121.9 308.6L87.9 315.1L120.7 309.9L66.8 294L81.4 306.9L116.6 311.7L89.4 311.7L81.5 301.9L124 311.3L88.8 307.7L74.6 293.9L91.2 311.7L128.9 313.3L81.2 308.8L75.2 305.6L111.1 311.9L78.6 311.3L71.9 313.8L117.2 304.8L129.6 304.8L131.1 304.3L108.3 313.8L80.7 310.5L118.4 310.2L105.2 321.1L127.8 315.4L94.9 311L75.4 309.9L117 311.2L92.3 299.5L86.8 310.2L76.6 298.8L133 304.7L76.8 305.9L125 308.9L119.7 304.2L107 314" fill="none" marker-start="url(#mB14)" marker-mid="url(#mB14)" marker-end="url(#mB14)"/><path d="M89.5 304.9L106.5 313.9L133.1 306.2L77.2 303.9L114.3 314.9L88.5 320.2L108.7 314.7L125.4 313.9L84.6 305.3L88.2 314.3L100 306.1L86.6 311.4L126.4 302.7L102.6 309.5L87.8 305.9L119.1 317.3L91.8 302.4L71.7 304.5L113.8 303.3L105.4 303.9L123.2 301.9L91.8 311.4L96.6 310.8L79.2 311.7L112.9 307.5L118.4 320L120.9 304.6L122.3 303.7L117 309.1L102.7 301.9L105.7 306L88.7 306.3L119.1 310.6L98.6 303.9L78.2 298.7L113.3 321.5L79.7 312.6L91.8 304.6L114.5 316L123.2 312.2L95 317.5L116.6 308L92.4 314.6L128.7 302.4L116.6 317.6L105 313L116.6 302.6L98.1 315.7L79.2 327L86.7 311.3L94.8 310.6L118.5 311.1L115.8 311L126.2 302.6L85.2 307.2L85.7 315.3L76.4 308.2L105.3 334.3L81 303.9L116.6 313.3L109.1 312L108.2 310.6L110.9 317L90.1 308.1L113.2 321.7L112.3 306.9L79.9 298.8L105.4 315.2L88.8 322.6L100.5 313.3L89.8 307.3L115.5 302.8L105.5 314.8L103.6 315.5L105.5 304.1L72.3 298.2L93.5 310.5L116.5 309.4L98.6 307.8L93.6 310.4L120.9 304.8L83.3 311.6L109.6 302L109.3 312.9L87.5 314.5L96.1 322.4L116.1 309L94.3 307.9L107.2 310.6L99.5 308.5L92.7 313.4L71.3 299.7L100.3 307.4L125.1 305.1L87.3 308.1L99.2 315L112.1 312.6L103.9 310.8L103.2 307.7L124.9 291.3L90.1 308L81.3 319.6L115.9 304.7L100.3 307L80.1 308.7L89.7 302.8L102.9 306.7L105.2 309.8L86.1 301.8L102.7 318.2L99.6 310.8L108 315L102.7 315.6L98.7 321.2L99 314.1L92.1 311.6L103.7 327.7L96.5 306.6L105.4 317.4L98.8 305.9L98.8 319.1L111.4 309.1L103.7 319.7L81.2 312.3L94.7 319.8L108.5 315.4L87.5 299.6L105.5 303.5L101.4 321.9L99.9 299.6L115.3 309L116.4 317.3L110.9 314.9L102.9 310.7L88 302.8L97.4 299.8L100.3 317.5L93.5 315.3L96.6 310.7L105.3 309.1L85.4 299.7L96.7 326L100.2 310L94.4 304.9L108.1 306.5L117.6 289.1" fill="none" marker-start="url(#mB15)" marker-mid="url(#mB15)" marker-end="url(#mB15)"/><path d="M80.1 226.4L76.2 233.6L84 233.6Z" fill="#fc8d62" stroke="#000" stroke-width=".7" stroke-linejoin="miter"/><g clip-path="url(#cTL)"><rect x="324.2" y="1.5" width="163.8" height="159" fill="#85ceb7"/><path d="M478.4 20L450.4 70L443.7 82L436 92L430.5 97L426.5 94.3L412 81.5L396 69.4L386.4 65.6L381.5 67.2L373.5 72.8L365.5 84L359.2 95L350.5 125L343.4 160L343.3 160.5L488 160.5L488 2.9L478.4 20Z" fill="#fda481"/><path d="M336.3 160.5L343.9 123.4L352.7 92.9L353.3 91.5L359.7 80.3L368.4 68.3L369.5 67.3L378.6 61L385.2 58.9L387 58.8L388.4 59.1L398.5 63L399.9 63.8L416.4 76.2L430 88.2L431.1 87.2L438.1 78.1L480.9 1.5M338.6 160.5L346 124.1L354.8 93.6L361.7 81.4L370.2 69.7L379.6 63L385.6 61.1L387 61L388 61.3L398.6 65.6L414.8 77.9L429.1 90.5L430 91.1L430.4 90.9L432.7 88.8L440 79.3L483.5 1.5M340.1 160.5L347.5 124.1L356.2 94L362.8 82.4L371.2 70.7L380.3 64.3L385.9 62.5L387 62.5L387.7 62.7L397.8 66.8L413.9 79L428.3 91.7L430 92.9L430.4 92.9L433.7 89.8L441.2 80.1L485.2 1.5M341.3 160.5L348.6 124.4L357.3 94.3L363.9 82.9L371.9 71.6L380.7 65.4L385.9 63.7L386.6 63.6L387.3 63.8L397.1 67.8L413.2 79.9L427.6 92.6L430.4 94.5L434.6 90.6L442.2 80.7L486.5 1.5M342.3 160.5L349.6 124.8L358.3 94.7L364.7 83.5L372.7 72.3L381 66.4L386.3 64.7L387 64.8L396.2 68.4L412.5 80.7L426.9 93.3L430.4 95.7L435.4 91.2L442.9 81.4L487.6 1.5M343.3 160.5L350.5 125.1L359.2 95L365.6 83.9L373.4 73L381.4 67.3L386.3 65.6L395.7 69.3L411.9 81.4L426.5 94.3L430.4 96.9L430.7 96.8L436.1 91.9L443.8 81.8L488 2.7M344.3 160.5L351.5 125.1L360.1 95.4L366.3 84.5L374 73.7L381.9 68.1L386.3 66.7L395.4 70.2L411.5 82.3L425.9 95L430 97.8L430.7 97.9L431.1 97.8L436.7 92.6L444.5 82.4L488 4.8M345.3 160.5L352.4 125.5L361 95.8L367.3 84.9L374.8 74.4L382.4 69L386.3 67.7L395 71.1L410.8 83L425.5 96L429.7 98.8L430.7 99L431.4 98.8L437.5 93.3L445.4 83L488 6.9M346.5 160.5L353.5 125.8L362 96.4L368.2 85.6L375.7 75.1L382.8 70.1L386.3 68.9L394.3 72.1L410.1 84L424.8 96.9L429.3 99.9L430.7 100.1L432.1 99.7L438.4 94L446.4 83.5L488 9.3M348 160.5L354.9 126.2L363.5 96.8L369.5 86.4L376.7 76.1L383.5 71.4L386.3 70.5L393.6 73.4L409 85L424.1 98.2L427.9 100.8L429.1 101.3L431.1 101.6L432.8 101L439.4 95L447.5 84.5L488 12.3M350.3 160.5L357.2 126.5L365.5 97.8L371.3 87.7L378.3 77.9L384.5 73.4L386.3 72.9L392.6 75.4L407.6 86.7L422.2 99.6L426.5 102.5L428.3 103.5L430 103.8L432.1 103.6L433.9 103L435.1 102L441.2 96.4L449.5 85.6L488 16.9" fill="none" stroke="#000" stroke-width=".5"/><path d="M374.9 63.1L421.1 76.7L387.6 53.7L362.4 60.9L340.6 87.6L389.2 60.1L417.7 77.8L405 63.4L427.2 81L414.1 71.7L416.1 78.8L348.1 84.7L362.4 63.1L370.7 54.2L429.6 85.6L423.3 66L419.3 87.3L353.8 70.4L358.2 64.5L382.1 53.4L392.4 46.6L374 43.8L405.9 61.5L368.3 56.2L372.2 61.2L369.8 52.1L378 58.5L350 78.9L383.7 51L377.9 52.6L368.1 58.4L410.5 56.8L404.7 57.2L352.2 71.5L392.9 54.5L375 49.8L384.1 57L369.7 48.5L383 49.9L340.4 69.1L358.4 71.5L385.7 53L343.4 75.8L356.7 62.8L394.3 48.5L341.5 90.5L339.1 76.5L345.8 88.8L374.8 52.8L341.5 83.8L421.6 70.9L365.5 60.3L409.4 75.3L363.9 50.5L393.5 46.5L417.2 66.4L345.1 79.9L389.4 55.1L351.5 66L354.5 65.1L347.7 91.9L411.3 64.6L433.7 79.5L368.2 57L374.3 55L342.4 86.7L370.9 58.3L416.9 70.9L385 59.1L371.8 58.6L349.1 69.7L353 56.6L353.5 72.4L421.4 79.3L424.8 73.8L385.6 52L429.8 77.4L359.3 71.7L345.8 76.7L358.8 60.8L344.4 90.1L361.1 64.6L365.6 62L356.4 63L345.1 68.6L412.8 55.7L346.5 85L377.1 57.9L406.9 63.7L348.4 88L371.6 56.6L345 76.4L397.8 58.9L355.9 73.1L419.9 85.3L399.1 58.9L411.9 51.5L370.6 65.2L415 65.9L420.1 84.1L403.5 48.6L413 51.8L420.4 86.4L380.9 51.6L353.1 67L370.3 59.1L419.2 85L358.3 83.1L373.2 56.4L410.2 79.5L414 79.3L402.4 59.9L393.6 55.7L346.1 90L401.5 45.5L354.8 65.4L347.8 75.5L350.2 58.5L423 88.8L354.8 90.2L389.2 55.5L419.6 78.6L413.4 73.4L353.1 80L431.6 83L351.6 73.1L417.9 58.9L337.7 92.7L353.2 48.3L352.7 63.2L419.6 75L406.9 54.7L343 79.2L398.4 61.2L363.4 50.7L362.1 61.8L422.9 78.6L406 56.1L388.5 47.7L387.5 53.5L401.1 57.5L342.5 84.5L425.5 88.2L419.4 63.7L413.3 68.9L340.5 84.9L352.7 70.4L347.9 76.6L376.7 52.9L362.8 56.4L419.3 80.1L355.9 58.6L350.9 70.8L381.8 52L418.4 82.5L427 75.8L401.9 60.4L410.6 66.2L375.3 51.9L423.2 70.3L420.6 74.2L382 59.6L422.3 78.4L426.8 80.6L341 78.2L408.5 62.3L349.8 70.3L346.5 84.2L414.4 58.1L408.4 66.8L368.1 55L419.4 66.3L415.3 84.4L391.9 55.5L395.8 56.4L370.9 58.6L366.7 55.3L365.2 55.9L358.5 67.3L395.5 52.1L354.2 63.9L360.4 54.9L398.8 51.6L367.1 67.2L370.2 57.9L375.9 47.9L399.3 57.7L399.9 53.2L412.6 62.6L378.2 51.1L367.8 53.6L422.5 71.7L365.5 53.9L400 53.9L349.3 85.9L433 89.3L382.4 54.1L386.6 57.1L431.7 80.7L420.9 70.8L409.1 59.3L362.7 53.4L345.1 89.4L407.9 60.8L359.1 64.3L408.8 72.3L339 82.7L358.8 70.2L363.2 62.3L393 64L412.5 58.9L394 57.3L390.6 58.6L403.9 60.6L358.3 64L337.2 75.6L409.1 52.3L348.7 82.6L416.2 70L431.6 79.5L394.8 66.2L384.8 50.9L391 55.6L401.9 61.4L401.2 51.1L351 67.7L414.5 67.5L388.3 57.7L376.7 56.5L342.4 85.7L392.5 57.8L352.1 65.3L348.4 81.1L373.7 50.4L352.9 97.1L388.3 50.1L423.9 91.5L353.2 73.6L411.4 71L371.4 58L395.1 53.6L375.6 53.9L419.9 80.6L421.8 71.4L359.6 53.6L355.4 79.4L430.8 80.8L358.4 65.6L352.9 83.8L394.1 49.7L391.5 53.6L389.4 51.8L357.4 57.7L359.7 61.2L404.2 52.4L355 71.5L402 55.5L359 57.6L347.3 78.1L402.6 58L388.2 50L405.8 58.9L347.1 77.6L420.2 72.4L342.4 92.3L426.2 70.9L426.4 75L355.9 61.2L360.2 82L409.6 64.1L396.1 53.1L364.2 55.3L418.9 68.1L347.1 91.5L387.6 55.9L415.3 65L385 52L358.9 57.1L421.7 82.7L357.1 63.8L412 57L362 58.4L406.4 46.1L362.7 56.7L362.8 59L354.2 73L346.9 79L419.9 81.1L359.2 70.5L386 60.2L421.7 60.9L416.7 67.6L382.1 58.6L416 55L348 77.5L360.4 61.3L406.8 52.6L365.9 64.2L427.2 68.1L355.8 68.5L354.4 92.3L341.3 80.3L367.7 56.1L396.6 67.6L369.6 55.4L348.3 88.6L349.5 79.6L347.9 68.1L395 52.6L378.8 50.3L358.1 67.4L418.9 85.8L340.5 84.3L375.6 53.2L380.6 51.8L353.9 96.3L349.2 74.4L384.3 49.6L413.7 73.1L346.2 74.3L407.6 50.7L396.8 49.7L401.6 55.6L405.3 62.7L418.4 73.4L425 82.7L372 59.9L340.1 84.7L347 91.7L352.1 69L415.4 72.8L343.7 75.9L412 69L357.1 72.4L370.2 57.4L354.7 54.6L423.6 68L355.9 57.1L391.9 57.4L404.7 62.4L378.1 57.7L419 72.4L415.4 70.6L398.2 57.4L396.2 52.2L360.8 56.6L351.7 66.4L394.6 54.8L405.8 60.7L351.1 77L382.7 60.8L373.6 60L384 44.8L432.3 78L410.6 57.1L425.3 84.7L368.6 48.8L417.4 83.9L392.9 49.2L342.1 68.3L358.2 66.5L370.3 49.9L420.1 71.1L349.4 73.1L392.1 46.7L346.3 76.3L413.4 60.9L398.5 51.6L388.7 51.5L431.9 76.5L432.7 82L357 62L388.6 52.5L412.3 61.2L361.3 55.2L407.3 67.2L399.1 50.6L389.7 60.2L342.7 86.8L381.3 49.6L391.4 62.5L341.5 85.1L369.4 59L412.3 61.7L391.2 57.6L342.5 78L412.7 68.3L351.7 84.8L440.5 82.2L421 65L404 64.7L404.1 57.9L347.1 81.6L411.9 63.7L388.5 46.2L368.9 51.8L378.3 47.9L350.4 81.2L345.3 73.9L422.2 89.1L363.6 55.7L375.9 62.5L383.8 64.9L390.4 48L419.1 70.5L370.9 49.2L379.2 43.9L346.7 77L402.3 52L362.5 68.1L379.7 51.1L401.4 48.6L423.9 85.8L419.6 66.9L370.1 47.2L427.3 89.7L425.8 69.3L425.4 79L427.1 81.1L346.4 65.6L388.7 51.5L413.1 65.1L415.4 65.5L419.9 73.3L355.7 67.9L415.3 65.7L427 80.3L357.4 58.6L352.8 57.1L404.1 59.8L361 69.9L356.4 70.4L372.4 51.1L384 40.1L396.8 52.5L418.6 67.6L405.2 62.7L378.7 48.4L352.9 68.3L392.4 55L409.5 61.2L399.6 50.9L409.5 61.1L422.5 81.2L368.6 49.5L400.2 63.4L420.8 73.6L345.6 75.2L416.4 74.5L417.2 60.9L344.7 72.3L411.5 58.2L380.1 49.6L427 77.4L362.6 54.7L380.1 52.8L351.2 85L425.4 78.7L352 63L368.5 58.9L374 55L341.5 86.4L414.4 68.7L417.3 71.8L420.5 85.6L395.5 54.2L356.2 85.6L408.2 64.3L385.8 53.7L376.4 55.5L373.3 58L353 70.3L407.8 70.7L400.9 61.1L422.6 57.3L345.6 74.4L349.9 70.9L409.4 60.6L426.5 83.1L403 56.9L423.6 71.2L343.9 98L371.2 51.8L359.2 68.5L343.4 92.3L417.3 72.2L379.6 59.4L427.3 92.7L356.5 60.6L397 53.9" fill="none" marker-start="url(#mPT)" marker-mid="url(#mPT)" marker-end="url(#mPT)"/><path d="M465.8 70.6L453.4 95L379.9 84L403.4 106.5L461.8 75.2L411.7 113.4L388.3 81.9L442.8 112.4L388.3 91.5L455.7 88.1L453.4 99.6L442.7 104.6L426 106.2L449.2 105.2L418.8 104.7L388.1 97.4L435.2 115.6L418.8 111.2L459.1 78.2L457.9 85.9L458.6 69.3L399.4 98.5L415.4 100.8L440.6 104.4L448.1 111.8L395.4 99.1L446.3 98.7L396.1 94.8L471.4 74.1L391.1 83.4L410.6 96.5L392.6 74.7L382.2 87L424.1 115.6L425.3 102.6L456.6 85L436.8 108.3L390.6 95.2L401.9 113L455.5 77.1L451.4 90.9L411 107.7L387.4 75.1L459.2 102.4L459.8 86.5L400.1 105L391.8 93.5L400.5 102.3L438.5 109.1L446.2 102.6L462.7 96L396.1 92.6L407.6 110.1L436.9 102.4L457.6 81.6L389.4 92.6L385.2 75.2L388.8 80L392.9 71.4L438.3 116.2L447.6 100.3L456.7 80.9L449.4 104.5L462 92.9L395.2 94.2L405.5 100.2L389.8 90.9L419.2 107.6L423 111.8L390.4 102.4L422.8 96.5L387.7 79.7L457.4 99.3L385.7 99.7L380.3 80.8L434.1 108.1L461.6 83.5L456 74L451.7 103.7L398.7 89.2L457.4 78.6L407.4 105.5L451.9 98.7L453.6 77.9L467.7 81.2L466.7 86.7L431.7 115.1L437.1 107.3L420.8 113.9L400.8 95.8L449.5 99.4L432.1 114.4L460.8 65.9L464.9 78.6L457.9 90.1L416.9 110.3L430 117.4L448.6 100.1L444.7 102.1L431.7 108L405.3 103.6L420.2 105.9L406.8 100.6L406.9 105.5L389.9 75.5L456.5 72.4L449.8 108.7L398.8 92.5L438.2 107.5L386 76.8L385.3 73.1L461.1 85.9L392.7 104.3L459.8 88.6L455.2 97.1L454.2 69.8L386.8 94.8L439.3 108L387.2 88.6L461.3 82L389.5 94L381.8 79.7L382.2 81.6L391.2 97.7L428.3 114.5L409.6 103.1L420.6 106.5L392.3 75.2L465.9 76.5L403.5 106.4L397.6 104.8L466.8 79L436 121.4L400.9 94.1L465.5 97.7L466.2 84.5L420.1 107.6L447.4 107.6L395.7 93L427.3 110.4L424.4 106.8L384.1 85.1L424.6 105.1L450.9 106.4L447.2 108.8L379.9 77.5L463.1 74.9L443.7 100.7L435.5 104.5L452.3 102.4L448.5 102.9L396.2 106.3L422 109.4L472.7 74.3L411.2 108.9L461.5 73.3L459.4 78.3L444.5 112L462.3 98.9L437.9 97L460.4 85.2L455.8 82.4L383.2 76.4L455.1 98.8L383.3 76L463.5 84.5L384.8 69.1L432.1 102.6L449.7 105.3L431.4 110.6L438.3 112.4L398.9 108.7L412.3 119.3L453.5 85.8L417.8 94.7L390.1 88.1L389.3 96.6L458.2 85.5L447 104.2L434.9 115.1L464.4 87L439.2 108.4L416.5 93.6L460.6 80.2L461.3 91.3L463.2 82.6L420.1 111.2L408.5 107.6L385.2 81.1L456.4 98.7L399.2 84.4L455.6 90.7L384.9 100.7L419.1 113.2L422.8 112.5L382 86.9L437.5 97L406.1 100L404.8 110.2L396.3 98.6L391.3 100.3L399 103.1L436.5 105L448.9 101.5L390.8 92.8L453.8 67.3L412 101.7L444.9 111.7L415.5 118.8L402.2 97.8L442.4 102.1L394.7 94L465 73.4L464.3 90.6L432.1 108.8L391.3 100.4L406.9 110.5L464.6 85L415 117.4L415.4 107.4L399 103L411.7 107L454.2 98.2L459.1 83.2L454.9 92.9L431.7 109.6L458.1 97.4L420.3 95.9L458.7 89.9L391.4 98.3L382.6 81.3L420.7 107.1L452.8 99.5L405.2 112L384.1 78.8L422.6 106.7L403.7 95.7L380.1 82.9L410.3 110.3L383.4 75.2L391.2 92.6L439.7 109.1L473.7 86.4L407.2 105.8L411.5 97.7L402.8 97.7L400.3 95.7L417.2 103.4L389.4 76.6L387.6 82.9L404.3 105.4L394.1 95.9L456 82.6L440.8 115.9L397.1 98.3L437 114.5L402.3 91.1L420.8 102.9L439.2 104.7L388.5 79.3L406.6 108.5L393.7 95.5L408.5 110.7L461.4 77L454.3 96.7L395.6 98.5L435.5 108.7L441.7 117.1L400.9 96.9L454.4 95.4L448.8 91.5L426.6 97.2L452.5 98.2L420.5 105L443.2 97.1L382.8 87.4L461.6 101.2L435.1 102.5L404.8 107.7L451.5 103.1L468.2 83.1L427.4 108.6L392.4 108.1L387.9 79.9L416.9 108.4L435.1 108.6L425.9 94L385.5 77.2L445.3 100.9L428.7 107L439.5 113.6L410 109.4L386.1 83L391.7 83.6L461.3 95.9L465.8 65.4L449.9 103.5L387.4 95.4L405.3 102.5L403.4 106.7L387 80.7L446.3 102.1L404.2 101.7L457.8 92.7L408 106.5L401.7 99.6L390.6 83.6L418.4 87.6L446.7 98.2L463.6 85.3L432.2 109.9L409.7 105.8L391.2 82.5L408.3 103.7L458.2 99.3L405.5 98.1L385.9 94.2L409.5 105L460 78.5L425.8 112.3L412.2 110.5L456.8 102.9L380.1 74.6L391.8 86.9L430.1 104.1L454.9 97.6L386.4 79.7L457.3 98.2L389.8 94.1L465.8 79.1L419.7 93.5L403.2 101.9L386.4 93L469.3 77.5L471 78.3L459.2 77L419.5 105.8L423.9 108.6L396.3 92.1L384.3 80.4L452.5 105.1L383 85.2L459.6 98.1L422.3 98.9L383.1 83.4L468.1 80.7L427.6 110.4L449.3 102.3L457.9 92.1L404.1 104.2L402.5 112.8L465.9 73.9L426 113.7L422.4 109.5L459.3 94L441.5 105.6L388.1 82.9L382.8 73.2L387.9 70.1L461.9 91L385.4 75.7L438.3 113.4L467.3 78.3L431.6 116.6L459.5 101.4L448.1 91.9L434.9 112.7L445.8 108.6L449.2 101.3L459.3 83.8L459.6 71.8L396.7 97.1L471.2 86.5L419.8 110.4L419 108.3L388.4 89.8L393.1 94.8L380.5 82L448.4 101.8L439.1 114.7L454.3 111.6L402.8 114.4L390.2 86.2L440.2 107.8L390.5 103.3L409.3 101.7L443.4 107.8L414.2 106.1L399.8 97.2L444.8 108.1L441.6 106.6L449.9 105.7L422.9 110.4L463.3 75.2L414.1 110L418.4 111.4L465 96.8L406.5 106.1L420.2 112.3L389.4 88.5L457.7 79.1L390.4 92.2L439.8 108.3L467 90.2L391 68.4L458 67.3L386.8 73.4L408.6 114L393.6 89.7L379.1 75.2L410.1 104.7L396.8 102.8L392.6 98.6L421.3 113.4L465.3 80.3L454.3 99.2L397.3 94.9L381.6 68.8L439.1 104.3L398.2 102.3L392.9 104L464.6 83.5L448.5 96L463.2 71.9L427.9 104.8L462 85L426.7 109.6L420.8 89.4L430.7 110.1L460.6 74L409.7 84.6L434.3 111.2L382.6 86.4L418.8 114.4L392.6 96.8L414 108L390.6 96.1L409.1 102.8L453.1 94.9L386.6 81.3L384.5 67.7L390.4 92.3L390.7 95.7L443.5 104.5L436.3 103.5L405.2 105.3L384.3 90L459.6 90.6L460.5 84.1L390 88.8L393 80.4L447.4 97.6L418.7 109.9L444 115.2L408.4 107.1L448.3 92.7L446.8 98.8L458.1 78.6L433 108.5L402.5 106.5L393.6 97.5L405 96.2L460.8 98.5L439.4 112L451.1 95L458.9 102L465.1 86.6L398 90.5L425.3 110.5L374.8 87.2L458.9 91.3L459.2 81.9L460.4 95.1L452.7 107.7L453.4 103L391.5 74.3L401.6 114.1L421.3 105.6L387.8 89.9L394.7 81.5L391.6 106L410.9 112.8L457.5 90.6L399.6 105.6L438.2 109L465.5 76.6L449.7 105.1L453.6 105.7L412.2 104.9L435.3 111.5L457.5 94.7L428 110.9L442.5 111.7L387 81.7L402.1 94.4L440.2 104.1L459.3 81.1L398.2 79.9L421.1 108.2L389.5 100L393.1 89.7L432.7 109L418.1 105.7L416.3 114L413.4 115.4L420.2 102.7L446.3 94.5L398.5 109.2L390.5 87.5L405.9 109.7" fill="none" marker-start="url(#mPS)" marker-mid="url(#mPS)" marker-end="url(#mPS)"/><path d="M460.7 171.6L393.5 82.3" stroke="#111" stroke-width=".6" stroke-dasharray="1.2 .5" fill="none"/></g><rect x="324.2" y="1.5" width="163.8" height="159" fill="none" stroke="#bfbfbf" stroke-width="1.3"/><g clip-path="url(#cTR)"><rect x="520.3" y="1.5" width="163.5" height="159" fill="#85ceb7"/><path d="M679 45L670 60.1L655.5 80.2L645 87.8L630 87.3L620 83.9L607 78.5L596.4 73.7L588 72L584 73L580 76L574.3 84L566.9 95L554.8 125L545.7 160L545.5 160.5L683.8 160.5L683.8 37.6L679 45Z" fill="#fda481"/><path d="M538.4 160.5L539.1 158L548.3 123.1L560.5 92.6L561.2 91.2L568.7 80.1L574.5 71.9L575.4 71L579.9 67.5L581.3 66.7L586.6 65.3L589 65.2L598.8 67.3L609.7 72.2L622.3 77.4L631 80.4L642.9 80.9L650.6 75.3L664.1 56.5L673.1 41.5L679.7 31.3L683.8 24.5M540.7 160.5L541.3 158.8L550.4 123.7L562.6 93.3L570.5 81.4L576.9 72.6L582.2 68.8L586.9 67.5L588.7 67.5L598.1 69.4L609 74.3L621.6 79.6L630.7 82.7L643.6 83.2L652.4 76.7L666.1 57.6L675.1 42.6L681.5 32.8L683.8 28.9M542.3 160.5L542.7 159.1L551.8 124.1L563.9 94L571.8 82.1L577.9 73.7L582.7 70.2L587.3 69L588.7 68.9L597.4 70.7L608.3 75.6L620.9 80.9L630.3 84.1L644 84.6L653.4 77.8L667.4 58.3L676.4 43.2L682.8 33.4L683.8 31.7M543.4 160.5L552.9 124.4L565 94.3L572.7 82.8L578.8 74.4L583.1 71.2L587.6 70.1L588.3 70L597.1 71.8L607.9 76.7L620.5 82L630.3 85.3L644.3 85.8L654.2 78.6L668.4 59L677.3 44L683.8 33.8M544.5 160.5L553.9 124.8L566 94.7L573.5 83.5L579.6 75.1L583.8 72.1L587.6 71.1L588.3 71.1L596.7 72.8L607.6 77.7L620.2 82.9L630 86.3L644.7 86.8L655 79.3L669.2 59.6L678.1 44.6L683.8 35.8M545.5 160.5L554.8 125.1L566.9 95L574.3 84L580.3 75.8L584.1 73L588 72L588.3 72.1L596.4 73.7L606.9 78.4L619.8 83.8L630 87.3L645 87.8L655.6 80L670 60L679 45L683.8 37.6M546.5 160.5L555.8 125.2L567.7 95.7L575.1 84.5L580.9 76.5L584.5 73.9L588.3 73L596 74.6L606.5 79.3L619.5 84.7L629.6 88.2L645.4 88.7L656.3 80.7L670.7 60.8L679.7 45.7L683.8 39.4M547.5 160.5L556.7 125.5L568.6 96.1L575.8 85.2L581.7 77.2L584.8 74.9L588.3 74.1L596 75.7L606.2 80.3L619.1 85.7L629.6 89.2L645 89.8L645.7 89.6L657.1 81.4L671.7 61.1L680.7 46L683.8 41.2M548.7 160.5L557.8 125.8L569.6 96.8L576.8 85.9L582.4 78.2L585.5 75.9L588.3 75.3L595.7 76.8L605.8 81.4L618.8 86.8L629.3 90.3L645 90.9L646.1 90.7L657.2 82.8L658 82.1L672.6 61.8L681.6 46.8L683.8 43.4M550.3 160.5L559.1 126.5L570.8 97.5L578 86.6L583.4 79.2L585.9 77.3L588 76.7L594.6 78L605.1 82.7L618.4 88.2L628.9 91.8L645 92.4L646.4 92.2L647.8 91.4L658.3 83.8L659 83.1L673.9 62.5L682.9 47.4L683.8 46M552.6 160.5L561.3 127.2L572.9 98.4L579.9 87.9L585.1 80.7L586.9 79.4L588.3 79L594.3 80.2L604.4 84.8L617.4 90.2L628.6 94L645 94.6L647.1 94.3L649.1 93.3L659.7 85.6L660.8 84.5L675.7 63.9L683.8 50.4" fill="none" stroke="#000" stroke-width=".5"/><path d="M661.8 70.6L570.9 63.1L657.8 75.2L617.1 76.7L583.6 53.7L558.4 60.9L536.6 87.6L585.2 60.1L613.7 77.8L601 63.4L623.2 81L610.1 71.7L612.1 78.8L544.1 84.7L558.4 63.1L566.7 54.2L625.6 85.6L619.3 66L549.8 70.4L655.1 78.2L554.2 64.5L578.1 53.4L588.4 46.6L654.6 69.3L570 43.8L601.9 61.5L564.3 56.2L568.2 61.2L565.8 52.1L574 58.5L546 78.9L579.7 51L573.9 52.6L564.1 58.4L606.5 56.8L600.7 57.2L548.2 71.5L588.9 54.5L571 49.8L580.1 57L565.7 48.5L579 49.9L536.4 69.1L554.4 71.5L581.7 53L539.4 75.8L552.7 62.8L651.5 77.1L590.3 48.5L537.5 90.5L535.1 76.5L541.8 88.8L570.8 52.8L537.5 83.8L617.6 70.9L561.5 60.3L605.4 75.3L559.9 50.5L589.5 46.5L613.2 66.4L541.1 79.9L585.4 55.1L547.5 66L550.5 65.1L543.7 91.9L588.9 71.4L607.3 64.6L652.7 80.9L629.7 79.5L564.2 57L570.3 55L538.4 86.7L566.9 58.3L612.9 70.9L576.3 80.8L581 59.1L567.8 58.6L545.1 69.7L549 56.6L549.5 72.4L617.4 79.3L620.8 73.8L581.6 52L625.8 77.4L555.3 71.7L652 74L541.8 76.7L554.8 60.8L540.4 90.1L653.4 78.6L649.6 77.9L557.1 64.6L561.6 62L552.4 63L541.1 68.6L608.8 55.7L542.5 85L573.1 57.9L602.9 63.7L656.8 65.9L544.4 88L567.6 56.6L541 76.4L593.8 58.9L551.9 73.1L595.1 58.9L607.9 51.5L566.6 65.2L652.5 72.4L581.3 73.1L611 65.9L650.2 69.8L599.5 48.6L609 51.8L576.9 51.6L549.1 67L566.3 59.1L554.3 83.1L569.2 56.4L610 79.3L598.4 59.9L589.6 55.7L542.1 90L597.5 45.5L550.8 65.4L543.8 75.5L546.2 58.5L550.8 90.2L585.2 55.5L615.6 78.6L609.4 73.4L549.1 80L627.6 83L547.6 73.1L613.9 58.9L533.7 92.7L549.2 48.3L548.7 63.2L615.6 75L602.9 54.7L575.9 77.5L539 79.2L594.4 61.2L659.1 74.9L559.4 50.7L558.1 61.8L618.9 78.6L602 56.1L584.5 47.7L583.5 53.5L597.1 57.5L657.5 73.3L655.4 78.3L538.5 84.5L615.4 63.7L609.3 68.9L536.5 84.9L548.7 70.4L543.9 76.6L572.7 52.9L558.8 56.4L651.8 82.4L579.2 76.4L615.3 80.1L551.9 58.6L546.9 70.8L577.8 52L623 75.8L597.9 60.4L579.3 76L606.6 66.2L571.3 51.9L619.2 70.3L616.6 74.2L580.8 69.1L578 59.6L618.3 78.4L622.8 80.6L537 78.2L604.5 62.3L545.8 70.3L542.5 84.2L610.4 58.1L604.4 66.8L564.1 55L615.4 66.3L587.9 55.5L591.8 56.4L566.9 58.6L562.7 55.3L561.2 55.9L554.5 67.3L591.5 52.1L550.2 63.9L556.4 54.9L594.8 51.6L563.1 67.2L566.2 57.9L571.9 47.9L595.3 57.7L595.9 53.2L608.6 62.6L574.2 51.1L563.8 53.6L618.5 71.7L561.5 53.9L596 53.9L545.3 85.9L578.4 54.1L582.6 57.1L627.7 80.7L616.9 70.8L605.1 59.3L558.7 53.4L541.1 89.4L603.9 60.8L555.1 64.3L604.8 72.3L535 82.7L554.8 70.2L649.8 67.3L559.2 62.3L589 64L608.5 58.9L590 57.3L586.6 58.6L599.9 60.6L554.3 64L533.2 75.6L605.1 52.3L544.7 82.6L612.2 70L627.6 79.5L590.8 66.2L580.8 50.9L587 55.6L597.9 61.4L597.2 51.1L547 67.7L610.5 67.5L584.3 57.7L572.7 56.5L538.4 85.7L588.5 57.8L548.1 65.3L544.4 81.1L569.7 50.4L548.9 97.1L584.3 50.1L549.2 73.6L607.4 71L567.4 58L591.1 53.6L571.6 53.9L615.9 80.6L617.8 71.4L555.6 53.6L551.4 79.4L626.8 80.8L554.4 65.6L548.9 83.8L590.1 49.7L579.4 75.2L587.5 53.6L585.4 51.8L553.4 57.7L555.7 61.2L600.2 52.4L551 71.5L598 55.5L555 57.6L543.3 78.1L598.6 58L584.2 50L601.8 58.9L543.1 77.6L652 82.6L616.2 72.4L538.4 92.3L622.2 70.9L622.4 75L551.9 61.2L556.2 82L605.6 64.1L592.1 53.1L560.2 55.3L614.9 68.1L543.1 91.5L583.6 55.9L611.3 65L581 52L657.4 77L554.9 57.1L617.7 82.7L553.1 63.8L608 57L558 58.4L602.4 46.1L558.7 56.7L558.8 59L550.2 73L542.9 79L615.9 81.1L555.2 70.5L582 60.2L617.7 60.9L612.7 67.6L578.1 58.6L612 55L544 77.5L556.4 61.3L602.8 52.6L561.9 64.2L661.8 65.4L623.2 68.1L551.8 68.5L550.4 92.3L537.3 80.3L563.7 56.1L592.6 67.6L565.6 55.4L544.3 88.6L545.5 79.6L543.9 68.1L591 52.6L574.8 50.3L554.1 67.4L656 78.5L536.5 84.3L576.1 74.6L571.6 53.2L576.6 51.8L549.9 96.3L545.2 74.4L580.3 49.6L609.7 73.1L542.2 74.3L603.6 50.7L655.2 77L592.8 49.7L597.6 55.6L601.3 62.7L614.4 73.4L621 82.7L568 59.9L536.1 84.7L543 91.7L548.1 69L611.4 72.8L539.7 75.9L608 69L553.1 72.4L566.2 57.4L550.7 54.6L619.6 68L578.8 73.2L583.9 70.1L551.9 57.1L587.9 57.4L600.7 62.4L574.1 57.7L615 72.4L611.4 70.6L594.2 57.4L592.2 52.2L556.8 56.6L547.7 66.4L590.6 54.8L601.8 60.7L547.1 77L578.7 60.8L569.6 60L655.6 71.8L580 44.8L628.3 78L606.6 57.1L564.6 48.8L588.9 49.2L538.1 68.3L554.2 66.5L566.3 49.9L616.1 71.1L545.4 73.1L588.1 46.7L542.3 76.3L609.4 60.9L594.5 51.6L584.7 51.5L627.9 76.5L628.7 82L553 62L584.6 52.5L608.3 61.2L557.3 55.2L603.3 67.2L595.1 50.6L585.7 60.2L538.7 86.8L577.3 49.6L653.7 79.1L587 68.4L587.4 62.5L537.5 85.1L565.4 59L608.3 61.7L654 67.3L582.8 73.4L587.2 57.6L538.5 78L608.7 68.3L547.7 84.8L636.5 82.2L617 65L600 64.7L600.1 57.9L575.1 75.2L543.1 81.6L607.9 63.7L584.5 46.2L564.9 51.8L574.3 47.9L546.4 81.2L541.3 73.9L559.6 55.7L571.9 62.5L579.8 64.9L586.4 48L615.1 70.5L577.6 68.8L566.9 49.2L575.2 43.9L542.7 77L598.3 52L558.5 68.1L659.2 71.9L575.7 51.1L597.4 48.6L615.6 66.9L566.1 47.2L621.8 69.3L621.4 79L656.6 74L623.1 81.1L542.4 65.6L584.7 51.5L609.1 65.1L611.4 65.5L615.9 73.3L551.7 67.9L611.3 65.7L623 80.3L553.4 58.6L580.5 67.7L548.8 57.1L600.1 59.8L557 69.9L552.4 70.4L568.4 51.1L580 40.1L592.8 52.5L614.6 67.6L601.2 62.7L574.7 48.4L548.9 68.3L588.4 55L605.5 61.2L595.6 50.9L605.5 61.1L654.1 78.6L618.5 81.2L564.6 49.5L596.2 63.4L616.8 73.6L541.6 75.2L612.4 74.5L613.2 60.9L540.7 72.3L607.5 58.2L576.1 49.6L623 77.4L558.6 54.7L576.1 52.8L547.2 85L621.4 78.7L548 63L564.5 58.9L570 55L537.5 86.4L570.8 87.2L610.4 68.7L613.3 71.8L591.5 54.2L552.2 85.6L604.2 64.3L581.8 53.7L572.4 55.5L569.3 58L549 70.3L603.8 70.7L596.9 61.1L618.6 57.3L541.6 74.4L545.9 70.9L605.4 60.6L622.5 83.1L599 56.9L619.6 71.2L539.9 98L567.2 51.8L555.2 68.5L539.4 92.3L613.3 72.2L575.6 59.4L552.5 60.6L593 53.9" fill="none" marker-start="url(#mPT)" marker-mid="url(#mPT)" marker-end="url(#mPT)"/><path d="M649.4 95L575.9 84L599.4 106.5L607.7 113.4L584.3 81.9L638.8 112.4L584.3 91.5L651.7 88.1L649.4 99.6L638.7 104.6L622 106.2L615.3 87.3L645.2 105.2L614.8 104.7L584.1 97.4L631.2 115.6L614.8 111.2L653.9 85.9L595.4 98.5L611.4 100.8L636.6 104.4L644.1 111.8L591.4 99.1L642.3 98.7L592.1 94.8L667.4 74.1L587.1 83.4L606.6 96.5L588.6 74.7L578.2 87L620.1 115.6L621.3 102.6L652.6 85L632.8 108.3L586.6 95.2L597.9 113L647.4 90.9L607 107.7L583.4 75.1L655.2 102.4L655.8 86.5L596.1 105L587.8 93.5L596.5 102.3L634.5 109.1L642.2 102.6L658.7 96L592.1 92.6L603.6 110.1L632.9 102.4L653.6 81.6L585.4 92.6L581.2 75.2L584.8 80L634.3 116.2L643.6 100.3L645.4 104.5L658 92.9L591.2 94.2L601.5 100.2L585.8 90.9L615.2 107.6L619 111.8L586.4 102.4L618.8 96.5L583.7 79.7L653.4 99.3L581.7 99.7L630.1 108.1L657.6 83.5L647.7 103.7L594.7 89.2L603.4 105.5L647.9 98.7L663.7 81.2L662.7 86.7L627.7 115.1L633.1 107.3L616.8 113.9L596.8 95.8L645.5 99.4L628.1 114.4L660.9 78.6L653.9 90.1L612.9 110.3L626 117.4L644.6 100.1L640.7 102.1L615.9 85.3L627.7 108L601.3 103.6L616.2 105.9L602.8 100.6L602.9 105.5L585.9 75.5L645.8 108.7L594.8 92.5L634.2 107.5L582 76.8L657.1 85.9L588.7 104.3L616.1 84.1L655.8 88.6L651.2 97.1L616.4 86.4L582.8 94.8L635.3 108L583.2 88.6L657.3 82L585.5 94L577.8 79.7L615.2 85L578.2 81.6L587.2 97.7L624.3 114.5L606.2 79.5L605.6 103.1L616.6 106.5L588.3 75.2L661.9 76.5L619 88.8L599.5 106.4L593.6 104.8L662.8 79L632 121.4L596.9 94.1L661.5 97.7L662.2 84.5L616.1 107.6L643.4 107.6L591.7 93L623.3 110.4L620.4 106.8L580.1 85.1L620.6 105.1L646.9 106.4L643.2 108.8L639.7 100.7L631.5 104.5L648.3 102.4L644.5 102.9L592.2 106.3L618 109.4L668.7 74.3L607.2 108.9L621.5 88.2L640.5 112L658.3 98.9L633.9 97L656.4 85.2L651.1 98.8L614.4 82.5L659.5 84.5L628.1 102.6L645.7 105.3L627.4 110.6L634.3 112.4L594.9 108.7L608.3 119.3L649.5 85.8L613.8 94.7L611.3 84.4L586.1 88.1L585.3 96.6L654.2 85.5L643 104.2L630.9 115.1L660.4 87L635.2 108.4L612.5 93.6L656.6 80.2L657.3 91.3L659.2 82.6L616.1 111.2L604.5 107.6L581.2 81.1L652.4 98.7L595.2 84.4L651.6 90.7L580.9 100.7L629 89.3L615.1 113.2L618.8 112.5L578 86.9L633.5 97L602.1 100L600.8 110.2L592.3 98.6L587.3 100.3L595 103.1L632.5 105L644.9 101.5L586.8 92.8L608 101.7L640.9 111.7L611.5 118.8L598.2 97.8L638.4 102.1L590.7 94L661 73.4L660.3 90.6L628.1 108.8L587.3 100.4L602.9 110.5L660.6 85L611 117.4L611.4 107.4L595 103L607.7 107L650.2 98.2L655.1 83.2L650.9 92.9L627.7 109.6L654.1 97.4L616.3 95.9L654.7 89.9L619.9 91.5L587.4 98.3L578.6 81.3L616.7 107.1L648.8 99.5L601.2 112L580.1 78.8L618.6 106.7L599.7 95.7L576.1 82.9L606.3 110.3L587.2 92.6L635.7 109.1L669.7 86.4L603.2 105.8L607.5 97.7L598.8 97.7L596.3 95.7L613.2 103.4L585.4 76.6L583.6 82.9L600.3 105.4L590.1 95.9L636.8 115.9L593.1 98.3L633 114.5L598.3 91.1L616.8 102.9L635.2 104.7L584.5 79.3L602.6 108.5L589.7 95.5L604.5 110.7L650.3 96.7L591.6 98.5L631.5 108.7L637.7 117.1L596.9 96.9L650.4 95.4L644.8 91.5L622.6 97.2L648.5 98.2L616.5 105L639.2 97.1L578.8 87.4L657.6 101.2L631.1 102.5L600.8 107.7L647.5 103.1L664.2 83.1L623.4 108.6L588.4 108.1L583.9 79.9L612.9 108.4L631.1 108.6L621.9 94L581.5 77.2L641.3 100.9L624.7 107L635.5 113.6L606 109.4L582.1 83L587.7 83.6L657.3 95.9L645.9 103.5L583.4 95.4L601.3 102.5L599.4 106.7L583 80.7L642.3 102.1L600.2 101.7L653.8 92.7L604 106.5L597.7 99.6L586.6 83.6L614.4 87.6L642.7 98.2L659.6 85.3L628.2 109.9L605.7 105.8L587.2 82.5L604.3 103.7L654.2 99.3L601.5 98.1L581.9 94.2L605.5 105L614.9 85.8L621.8 112.3L608.2 110.5L652.8 102.9L587.8 86.9L626.1 104.1L650.9 97.6L582.4 79.7L653.3 98.2L585.8 94.1L661.8 79.1L615.7 93.5L599.2 101.9L582.4 93L665.3 77.5L667 78.3L615.5 105.8L619.9 108.6L592.3 92.1L580.3 80.4L648.5 105.1L579 85.2L655.6 98.1L618.3 98.9L579.1 83.4L664.1 80.7L623.6 110.4L645.3 102.3L653.9 92.1L600.1 104.2L598.5 112.8L661.9 73.9L622 113.7L618.4 109.5L655.3 94L637.5 105.6L584.1 82.9L657.9 91L581.4 75.7L634.3 113.4L663.3 78.3L627.6 116.6L655.5 101.4L644.1 91.9L630.9 112.7L641.8 108.6L645.2 101.3L655.3 83.8L592.7 97.1L621.3 84.7L613.4 83.9L667.2 86.5L615.8 110.4L615 108.3L584.4 89.8L589.1 94.8L576.5 82L644.4 101.8L635.1 114.7L650.3 111.6L598.8 114.4L586.2 86.2L636.2 107.8L586.5 103.3L605.3 101.7L639.4 107.8L610.2 106.1L595.8 97.2L640.8 108.1L637.6 106.6L645.9 105.7L618.9 110.4L659.3 75.2L610.1 110L614.4 111.4L661 96.8L602.5 106.1L616.2 112.3L585.4 88.5L586.4 92.2L635.8 108.3L663 90.2L604.6 114L589.6 89.7L606.1 104.7L592.8 102.8L588.6 98.6L617.3 113.4L661.3 80.3L650.3 99.2L593.3 94.9L618.2 89.1L635.1 104.3L594.2 102.3L588.9 104L660.6 83.5L644.5 96L623.9 104.8L658 85L619.9 85.8L622.7 109.6L623.3 89.7L616.8 89.4L626.7 110.1L605.7 84.6L630.3 111.2L578.6 86.4L614.8 114.4L588.6 96.8L610 108L586.6 96.1L605.1 102.8L649.1 94.9L582.6 81.3L586.4 92.3L586.7 95.7L639.5 104.5L632.3 103.5L601.2 105.3L580.3 90L655.6 90.6L656.5 84.1L586 88.8L589 80.4L643.4 97.6L614.7 109.9L640 115.2L604.4 107.1L644.3 92.7L642.8 98.8L629 108.5L598.5 106.5L589.6 97.5L601 96.2L656.8 98.5L635.4 112L647.1 95L654.9 102L661.1 86.6L594 90.5L621.3 110.5L654.9 91.3L655.2 81.9L656.4 95.1L648.7 107.7L616.5 85.6L649.4 103L587.5 74.3L597.6 114.1L617.3 105.6L583.8 89.9L590.7 81.5L587.6 106L606.9 112.8L653.5 90.6L595.6 105.6L634.2 109L661.5 76.6L645.7 105.1L649.6 105.7L608.2 104.9L631.3 111.5L653.5 94.7L624 110.9L638.5 111.7L583 81.7L598.1 94.4L636.2 104.1L655.3 81.1L594.2 79.9L617.1 108.2L585.5 100L589.1 89.7L628.7 109L614.1 105.7L612.3 114L623.3 92.7L609.4 115.4L616.2 102.7L642.3 94.5L594.5 109.2L586.5 87.5L601.9 109.7" fill="none" marker-start="url(#mPS)" marker-mid="url(#mPS)" marker-end="url(#mPS)"/></g><rect x="520.3" y="1.5" width="163.5" height="159" fill="none" stroke="#bfbfbf" stroke-width="1.3"/><g clip-path="url(#cBL)"><rect x="324.2" y="192.3" width="163.8" height="158.8" fill="#85ceb7"/><path d="M476 193L471.4 205L458 240L445.7 274L437 281L426.5 287L416 281L407.2 274L396 262L388 259.5L380 261L372.5 266L347 290.3L332 305.5L325 312.5L324.2 313.1L324.2 351.1L488 351.1L488 192.3L476.3 192.3L476 193Z" fill="#fda481"/><path d="M324.2 301.2L341.1 284.1L366.8 259.6L375.4 253.8L377.9 252.7L386.6 251.1L388.7 251L390.5 251.3L399.2 254L400.6 254.7L402 255.8L413 267.6L421 273.9L426.5 277.1L432.4 273.6L438.4 268.5L455.6 216.4L460.3 203.2L464.8 192.3M324.2 305.2L343 286.2L368.7 261.7L376.8 256.2L378.6 255.4L387 253.9L388.4 253.8L389.8 254L398.5 256.8L400.3 258.1L411.1 269.7L419.2 276.1L426.5 280.4L433.9 276.1L440.5 270.7L440.9 270.2L451.9 237.5L458.4 218.6L463.6 204.6L468.5 192.3M324.2 307.7L344.3 287.5L369.8 263.2L377.9 257.7L378.9 257.2L387.3 255.6L388.4 255.6L397.8 258.5L398.9 259.3L410.1 271.2L418.1 277.6L426.5 282.5L434.9 277.6L442.4 271.5L453.8 238.2L459.8 221.7L465.7 205.7L471 192.3M324.2 309.8L345.3 288.5L370.9 264.2L379.3 258.6L388 257L397.1 259.8L397.8 260.3L409 272.3L417.4 278.9L426.5 284.1L435.7 278.8L443.5 272.5L443.7 272.3L459.4 227.9L466.8 208.1L473 192.3M324.2 311.6L324.4 311.4L346.3 289.3L371.6 265.2L379.6 259.9L388 258.3L396.7 261L408.2 273.2L416.7 280L426.5 285.6L436.4 279.9L444.7 273.2L456.8 239.3L474.7 192.3M324.2 313.1L325 312.4L347.1 290.2L372.3 266.2L380 261L388 259.5L396 262L407.6 274.3L416 281L426.5 287L437 281L438.4 279.9L445.8 273.8L458.1 239.6L476.3 192.3M324.2 314.3L325.7 313.1L347.8 290.9L373 266.9L380.3 262L388 260.5L395.4 262.8L406.6 274.7L415.7 281.9L426.2 287.9L426.5 288L427.2 287.7L437.4 281.9L446.1 274.9L446.6 274.3L459.1 240.3L477.6 192.3M324.2 315.6L326.4 313.8L348.5 291.6L373.6 267.6L381 262.8L388 261.6L395 263.8L406.2 275.7L415 282.7L426.2 288.9L426.9 288.9L427.6 288.7L438.1 282.7L446.8 275.7L447.6 274.6L460.1 240.9L470.7 214.1L478.9 192.3M324.2 317L327.1 314.8L349.2 292.5L374.4 268.6L381.4 263.9L387.7 262.8L394.3 264.8L405.5 276.7L414.3 283.6L424.9 289.7L425.8 290.1L426.9 290.1L427.9 289.8L438.8 283.6L447.5 276.6L448.2 276L448.7 275L461.3 241.4L472.1 214.4L480.5 192.3M324.2 318.9L328.2 315.8L350.2 293.5L375.2 269.7L381.7 265.4L387.7 264.2L393.3 266L404.1 277.4L413.2 284.6L424.4 291.1L425.8 291.5L427.2 291.5L428.6 291.1L439.5 284.9L448.6 277.7L449.5 276.7L450.1 275.7L462.9 242.1L474.8 212.7L482.4 192.3M324.2 321.7L329.8 317.3L352 295L376.6 271.5L382.8 267.4L387.7 266.6L392.2 268L402.4 278.8L411.8 286.4L423.4 293.1L425.5 293.8L427.6 293.8L429.3 293.2L440.5 286.9L450 279.5L451.3 278.1L452.2 276.4L462.9 248.9L477 214.8L481.1 204.1L485.3 192.3" fill="none" stroke="#000" stroke-width=".5"/><path d="M374.9 254.1L421.1 267.7L387.6 244.7L362.4 251.9L340.6 278.6L389.2 251.1L417.7 268.8L405 254.4L427.2 272L414.1 262.7L416.1 269.8L348.1 275.7L362.4 254.1L370.7 245.2L429.6 276.6L423.3 257L419.3 278.3L353.8 261.4L358.2 255.5L382.1 244.4L392.4 237.6L374 234.8L405.9 252.5L368.3 247.2L372.2 252.2L369.8 243.1L378 249.5L350 269.9L383.7 242L377.9 243.6L368.1 249.4L410.5 247.8L404.7 248.2L352.2 262.5L392.9 245.5L375 240.8L384.1 248L369.7 239.5L383 240.9L340.4 260.1L358.4 262.5L385.7 244L343.4 266.8L356.7 253.8L394.3 239.5L341.5 281.5L339.1 267.5L345.8 279.8L374.8 243.8L341.5 274.8L421.6 261.9L365.5 251.3L409.4 266.3L363.9 241.5L393.5 237.5L417.2 257.4L345.1 270.9L389.4 246.1L351.5 257L354.5 256.1L347.7 282.9L411.3 255.6L433.7 270.5L368.2 248L374.3 246L342.4 277.7L370.9 249.3L416.9 261.9L385 250.1L371.8 249.6L349.1 260.7L353 247.6L353.5 263.4L421.4 270.3L424.8 264.8L385.6 243L429.8 268.4L359.3 262.7L345.8 267.7L358.8 251.8L344.4 281.1L361.1 255.6L365.6 253L356.4 254L345.1 259.6L412.8 246.7L346.5 276L377.1 248.9L406.9 254.7L348.4 279L371.6 247.6L345 267.4L397.8 249.9L355.9 264.1L419.9 276.3L399.1 249.9L411.9 242.5L370.6 256.2L415 256.9L420.1 275.1L403.5 239.6L413 242.8L420.4 277.4L380.9 242.6L353.1 258L370.3 250.1L419.2 276L358.3 274.1L373.2 247.4L410.2 270.5L414 270.3L402.4 250.9L393.6 246.7L346.1 281L401.5 236.5L354.8 256.4L347.8 266.5L350.2 249.5L423 279.8L354.8 281.2L389.2 246.5L419.6 269.6L413.4 264.4L353.1 271L431.6 274L351.6 264.1L417.9 249.9L337.7 283.7L353.2 239.3L352.7 254.2L419.6 266L406.9 245.7L343 270.2L398.4 252.2L363.4 241.7L362.1 252.8L422.9 269.6L406 247.1L388.5 238.7L387.5 244.5L401.1 248.5L342.5 275.5L425.5 279.2L419.4 254.7L413.3 259.9L340.5 275.9L352.7 261.4L347.9 267.6L376.7 243.9L362.8 247.4L419.3 271.1L355.9 249.6L350.9 261.8L381.8 243L418.4 273.5L427 266.8L401.9 251.4L410.6 257.2L375.3 242.9L423.2 261.3L420.6 265.2L384.8 260.1L382 250.6L422.3 269.4L426.8 271.6L341 269.2L408.5 253.3L349.8 261.3L346.5 275.2L414.4 249.1L408.4 257.8L368.1 246L419.4 257.3L415.3 275.4L391.9 246.5L395.8 247.4L370.9 249.6L366.7 246.3L365.2 246.9L358.5 258.3L395.5 243.1L354.2 254.9L360.4 245.9L398.8 242.6L367.1 258.2L370.2 248.9L375.9 238.9L399.3 248.7L399.9 244.2L412.6 253.6L378.2 242.1L367.8 244.6L422.5 262.7L365.5 244.9L400 244.9L349.3 276.9L433 280.3L382.4 245.1L386.6 248.1L431.7 271.7L420.9 261.8L409.1 250.3L362.7 244.4L345.1 280.4L407.9 251.8L359.1 255.3L408.8 263.3L339 273.7L358.8 261.2L363.2 253.3L393 255L412.5 249.9L394 248.3L390.6 249.6L403.9 251.6L358.3 255L337.2 266.6L409.1 243.3L348.7 273.6L416.2 261L431.6 270.5L394.8 257.2L384.8 241.9L391 246.6L401.9 252.4L401.2 242.1L351 258.7L414.5 258.5L388.3 248.7L376.7 247.5L342.4 276.7L392.5 248.8L352.1 256.3L348.4 272.1L373.7 241.4L388.3 241.1L423.9 282.5L353.2 264.6L411.4 262L371.4 249L395.1 244.6L375.6 244.9L419.9 271.6L421.8 262.4L359.6 244.6L355.4 270.4L430.8 271.8L358.4 256.6L352.9 274.8L394.1 240.7L391.5 244.6L389.4 242.8L357.4 248.7L359.7 252.2L404.2 243.4L355 262.5L402 246.5L359 248.6L347.3 269.1L402.6 249L388.2 241L405.8 249.9L347.1 268.6L420.2 263.4L342.4 283.3L426.2 261.9L426.4 266L355.9 252.2L360.2 273L409.6 255.1L396.1 244.1L364.2 246.3L418.9 259.1L347.1 282.5L387.6 246.9L415.3 256L385 243L358.9 248.1L421.7 273.7L357.1 254.8L412 248L362 249.4L406.4 237.1L362.7 247.7L362.8 250L354.2 264L346.9 270L419.9 272.1L359.2 261.5L386 251.2L421.7 251.9L416.7 258.6L382.1 249.6L416 246L425.9 285L348 268.5L360.4 252.3L406.8 243.6L365.9 255.2L427.2 259.1L355.8 259.5L341.3 271.3L367.7 247.1L396.6 258.6L369.6 246.4L418.4 278.6L348.3 279.6L349.5 270.6L347.9 259.1L395 243.6L378.8 241.3L358.1 258.4L418.9 276.8L340.5 275.3L375.6 244.2L380.6 242.8L349.2 265.4L384.3 240.6L413.7 264.1L346.2 265.3L407.6 241.7L396.8 240.7L401.6 246.6L405.3 253.7L418.4 264.4L425 273.7L372 250.9L340.1 275.7L347 282.7L352.1 260L415.4 263.8L343.7 266.9L412 260L357.1 263.4L370.2 248.4L354.7 245.6L423.6 259L355.9 248.1L391.9 248.4L404.7 253.4L378.1 248.7L419 263.4L415.4 261.6L398.2 248.4L396.2 243.2L360.8 247.6L351.7 257.4L394.6 245.8L405.8 251.7L351.1 268L382.7 251.8L373.6 251L384 235.8L432.3 269L410.6 248.1L425.3 275.7L368.6 239.8L417.4 274.9L392.9 240.2L342.1 259.3L358.2 257.5L370.3 240.9L420.1 262.1L349.4 264.1L392.1 237.7L346.3 267.3L413.4 251.9L398.5 242.6L388.7 242.5L431.9 267.5L432.7 273L357 253L388.6 243.5L412.3 252.2L361.3 246.2L407.3 258.2L399.1 241.6L389.7 251.2L342.7 277.8L381.3 240.6L391 259.4L391.4 253.5L341.5 276.1L369.4 250L412.3 252.7L391.2 248.6L342.5 269L412.7 259.3L351.7 275.8L440.5 273.2L421 256L404 255.7L404.1 248.9L347.1 272.6L411.9 254.7L388.5 237.2L368.9 242.8L378.3 238.9L350.4 272.2L345.3 264.9L422.2 280.1L363.6 246.7L375.9 253.5L383.8 255.9L390.4 239L419.1 261.5L381.6 259.8L370.9 240.2L379.2 234.9L346.7 268L402.3 243L362.5 259.1L379.7 242.1L401.4 239.6L423.9 276.8L419.6 257.9L370.1 238.2L427.3 280.7L420.8 280.4L425.8 260.3L425.4 270L409.7 275.6L427.1 272.1L346.4 256.6L388.7 242.5L413.1 256.1L415.4 256.5L419.9 264.3L355.7 258.9L415.3 256.7L427 271.3L357.4 249.6L384.5 258.7L352.8 248.1L404.1 250.8L361 260.9L356.4 261.4L372.4 242.1L384 231.1L396.8 243.5L418.6 258.6L405.2 253.7L378.7 239.4L352.9 259.3L392.4 246L409.5 252.2L399.6 241.9L409.5 252.1L422.5 272.2L368.6 240.5L400.2 254.4L420.8 264.6L345.6 266.2L416.4 265.5L417.2 251.9L344.7 263.3L411.5 249.2L380.1 240.6L427 268.4L362.6 245.7L380.1 243.8L351.2 276L425.4 269.7L352 254L368.5 249.9L374 246L341.5 277.4L414.4 259.7L417.3 262.8L420.5 276.6L395.5 245.2L356.2 276.6L408.2 255.3L385.8 244.7L376.4 246.5L373.3 249L353 261.3L407.8 261.7L400.9 252.1L422.6 248.3L345.6 265.4L349.9 261.9L409.4 251.6L426.5 274.1L403 247.9L423.6 262.2L343.9 289L371.2 242.8L359.2 259.5L343.4 283.3L417.3 263.2L379.6 250.4L427.3 283.7L356.5 251.6L397 244.9" fill="none" marker-start="url(#mPT)" marker-mid="url(#mPT)" marker-end="url(#mPT)"/><path d="M465.8 261.6L453.4 286L379.9 275L403.4 297.5L461.8 266.2L411.7 304.4L388.3 272.9L442.8 303.4L388.3 282.5L455.7 279.1L453.4 290.6L442.7 295.6L426 297.2L449.2 296.2L418.8 295.7L388.1 288.4L435.2 306.6L418.8 302.2L459.1 269.2L457.9 276.9L458.6 260.3L399.4 289.5L415.4 291.8L440.6 295.4L448.1 302.8L395.4 290.1L446.3 289.7L396.1 285.8L471.4 265.1L391.1 274.4L410.6 287.5L392.6 265.7L382.2 278L424.1 306.6L425.3 293.6L456.6 276L436.8 299.3L390.6 286.2L401.9 304L455.5 268.1L451.4 281.9L411 298.7L387.4 266.1L459.2 293.4L459.8 277.5L400.1 296L391.8 284.5L400.5 293.3L438.5 300.1L446.2 293.6L462.7 287L396.1 283.6L407.6 301.1L436.9 293.4L457.6 272.6L389.4 283.6L385.2 266.2L388.8 271L392.9 262.4L438.3 307.2L447.6 291.3L456.7 271.9L449.4 295.5L462 283.9L395.2 285.2L405.5 291.2L389.8 281.9L419.2 298.6L423 302.8L390.4 293.4L422.8 287.5L387.7 270.7L457.4 290.3L385.7 290.7L380.3 271.8L434.1 299.1L461.6 274.5L456 265L451.7 294.7L398.7 280.2L457.4 269.6L407.4 296.5L451.9 289.7L453.6 268.9L467.7 272.2L466.7 277.7L431.7 306.1L437.1 298.3L420.8 304.9L400.8 286.8L449.5 290.4L432.1 305.4L460.8 256.9L464.9 269.6L457.9 281.1L416.9 301.3L430 308.4L448.6 291.1L444.7 293.1L431.7 299L405.3 294.6L420.2 296.9L406.8 291.6L406.9 296.5L389.9 266.5L456.5 263.4L449.8 299.7L398.8 283.5L438.2 298.5L386 267.8L385.3 264.1L461.1 276.9L392.7 295.3L459.8 279.6L455.2 288.1L454.2 260.8L386.8 285.8L439.3 299L387.2 279.6L461.3 273L389.5 285L381.8 270.7L382.2 272.6L391.2 288.7L428.3 305.5L409.6 294.1L420.6 297.5L392.3 266.2L465.9 267.5L403.5 297.4L397.6 295.8L466.8 270L436 312.4L400.9 285.1L465.5 288.7L466.2 275.5L420.1 298.6L447.4 298.6L395.7 284L427.3 301.4L424.4 297.8L384.1 276.1L424.6 296.1L450.9 297.4L447.2 299.8L379.9 268.5L463.1 265.9L443.7 291.7L435.5 295.5L452.3 293.4L448.5 293.9L396.2 297.3L422 300.4L472.7 265.3L411.2 299.9L461.5 264.3L459.4 269.3L444.5 303L462.3 289.9L437.9 288L460.4 276.2L455.8 273.4L383.2 267.4L455.1 289.8L383.3 267L463.5 275.5L432.1 293.6L449.7 296.3L431.4 301.6L438.3 303.4L398.9 299.7L412.3 310.3L453.5 276.8L417.8 285.7L390.1 279.1L389.3 287.6L458.2 276.5L447 295.2L434.9 306.1L464.4 278L439.2 299.4L416.5 284.6L460.6 271.2L461.3 282.3L463.2 273.6L420.1 302.2L408.5 298.6L385.2 272.1L456.4 289.7L399.2 275.4L455.6 281.7L384.9 291.7L419.1 304.2L422.8 303.5L382 277.9L437.5 288L406.1 291L404.8 301.2L396.3 289.6L391.3 291.3L399 294.1L436.5 296L448.9 292.5L390.8 283.8L453.8 258.3L412 292.7L444.9 302.7L415.5 309.8L402.2 288.8L442.4 293.1L394.7 285L465 264.4L464.3 281.6L432.1 299.8L391.3 291.4L406.9 301.5L464.6 276L415 308.4L415.4 298.4L399 294L411.7 298L454.2 289.2L459.1 274.2L454.9 283.9L431.7 300.6L458.1 288.4L420.3 286.9L352.9 288.1L458.7 280.9L391.4 289.3L382.6 272.3L420.7 298.1L452.8 290.5L405.2 303L384.1 269.8L422.6 297.7L403.7 286.7L380.1 273.9L410.3 301.3L383.4 266.2L391.2 283.6L439.7 300.1L473.7 277.4L407.2 296.8L411.5 288.7L402.8 288.7L400.3 286.7L417.2 294.4L389.4 267.6L387.6 273.9L404.3 296.4L394.1 286.9L456 273.6L440.8 306.9L397.1 289.3L437 305.5L402.3 282.1L420.8 293.9L439.2 295.7L388.5 270.3L406.6 299.5L393.7 286.5L408.5 301.7L461.4 268L454.3 287.7L395.6 289.5L435.5 299.7L441.7 308.1L400.9 287.9L454.4 286.4L448.8 282.5L426.6 288.2L452.5 289.2L420.5 296L443.2 288.1L382.8 278.4L461.6 292.2L435.1 293.5L404.8 298.7L451.5 294.1L468.2 274.1L427.4 299.6L392.4 299.1L387.9 270.9L416.9 299.4L435.1 299.6L385.5 268.2L445.3 291.9L428.7 298L439.5 304.6L410 300.4L386.1 274L391.7 274.6L461.3 286.9L465.8 256.4L449.9 294.5L387.4 286.4L354.4 283.3L405.3 293.5L403.4 297.7L387 271.7L446.3 293.1L404.2 292.7L457.8 283.7L408 297.5L401.7 290.6L390.6 274.6L446.7 289.2L463.6 276.3L432.2 300.9L409.7 296.8L391.2 273.5L408.3 294.7L458.2 290.3L405.5 289.1L385.9 285.2L409.5 296L460 269.5L425.8 303.3L412.2 301.5L456.8 293.9L380.1 265.6L391.8 277.9L430.1 295.1L454.9 288.6L386.4 270.7L457.3 289.2L353.9 287.3L389.8 285.1L465.8 270.1L419.7 284.5L403.2 292.9L386.4 284L469.3 268.5L471 269.3L459.2 268L419.5 296.8L423.9 299.6L396.3 283.1L384.3 271.4L452.5 296.1L383 276.2L459.6 289.1L422.3 289.9L383.1 274.4L468.1 271.7L427.6 301.4L449.3 293.3L457.9 283.1L404.1 295.2L402.5 303.8L465.9 264.9L426 304.7L422.4 300.5L459.3 285L441.5 296.6L388.1 273.9L382.8 264.2L387.9 261.1L461.9 282L385.4 266.7L438.3 304.4L467.3 269.3L431.6 307.6L459.5 292.4L448.1 282.9L434.9 303.7L445.8 299.6L449.2 292.3L459.3 274.8L459.6 262.8L396.7 288.1L471.2 277.5L419.8 301.4L419 299.3L388.4 280.8L393.1 285.8L380.5 273L448.4 292.8L439.1 305.7L454.3 302.6L402.8 305.4L390.2 277.2L440.2 298.8L390.5 294.3L409.3 292.7L443.4 298.8L414.2 297.1L399.8 288.2L444.8 299.1L441.6 297.6L449.9 296.7L422.9 301.4L463.3 266.2L414.1 301L418.4 302.4L465 287.8L406.5 297.1L420.2 303.3L389.4 279.5L457.7 270.1L390.4 283.2L439.8 299.3L467 281.2L458 258.3L386.8 264.4L408.6 305L393.6 280.7L379.1 266.2L410.1 295.7L396.8 293.8L392.6 289.6L421.3 304.4L465.3 271.3L454.3 290.2L397.3 285.9L439.1 295.3L398.2 293.3L392.9 295L464.6 274.5L448.5 287L463.2 262.9L427.9 295.8L462 276L426.7 300.6L430.7 301.1L460.6 265L434.3 302.2L382.6 277.4L418.8 305.4L392.6 287.8L414 299L390.6 287.1L409.1 293.8L453.1 285.9L386.6 272.3L390.4 283.3L390.7 286.7L443.5 295.5L436.3 294.5L405.2 296.3L384.3 281L459.6 281.6L460.5 275.1L390 279.8L393 271.4L447.4 288.6L418.7 300.9L444 306.2L408.4 298.1L448.3 283.7L446.8 289.8L458.1 269.6L433 299.5L402.5 297.5L393.6 288.5L405 287.2L460.8 289.5L439.4 303L451.1 286L458.9 293L465.1 277.6L398 281.5L425.3 301.5L374.8 278.2L458.9 282.3L459.2 272.9L460.4 286.1L452.7 298.7L453.4 294L391.5 265.3L401.6 305.1L421.3 296.6L387.8 280.9L394.7 272.5L391.6 297L410.9 303.8L457.5 281.6L399.6 296.6L438.2 300L465.5 267.6L449.7 296.1L453.6 296.7L412.2 295.9L435.3 302.5L457.5 285.7L428 301.9L442.5 302.7L387 272.7L402.1 285.4L440.2 295.1L459.3 272.1L398.2 270.9L421.1 299.2L389.5 291L393.1 280.7L432.7 300L418.1 296.7L416.3 305L413.4 306.4L420.2 293.7L446.3 285.5L398.5 300.2L390.5 278.5L405.9 300.7" fill="none" marker-start="url(#mPS)" marker-mid="url(#mPS)" marker-end="url(#mPS)"/></g><rect x="324.2" y="192.3" width="163.8" height="158.8" fill="none" stroke="#bfbfbf" stroke-width="1.3"/><g clip-path="url(#cBR)"><rect x="520.3" y="192.3" width="163.5" height="158.8" fill="#85ceb7"/><path d="M641.4 193L628.6 217L617 233L612 240L605 242L594 244L580 249L566.7 255L556 262L536.2 274L525.7 286L521 290L520.3 290.5L520.3 351.1L683.8 351.1L683.8 192.3L641.8 192.3L641.4 193Z" fill="#fda481"/><path d="M520.3 281.6L521 280.9L532 268.6L552.3 256.3L563.5 249L577.5 242.7L591.8 237.5L603.4 235.4L607.9 234L622.8 213.4L634 192.3M520.3 284.6L522.5 282.7L533.4 270.4L553.7 258.1L564.5 251L578.2 244.8L592.5 239.7L604.1 237.5L609.3 235.9L624.8 214.4L636.6 192.3M520.3 286.4L523.6 283.7L534.3 271.5L554.4 259.3L565.2 252.3L578.9 246.1L592.9 241.1L604.4 238.9L610.1 237.2L625.8 215.5L638.3 192.3M520.3 288L524.4 284.4L535.1 272.4L555 260.3L565.7 253.3L579.2 247.2L593.2 242.2L604.4 240.1L610.8 238.2L627 215.8L639.6 192.3M520.3 289.3L520.4 289.2L525 285.4L535.6 273.2L555.4 261.2L566.3 254.2L579.6 248.2L593.6 243.1L604.8 241.1L611.4 239.1L627.7 216.5L640.8 192.3M520.3 290.5L521.1 289.9L525.7 286L536.3 273.9L555.9 262L566.6 255.1L579.9 249L593.9 244L605.1 242L612.1 239.9L628.7 216.9L641.3 193.1L641.8 192.3M520.3 291.7L521.6 290.7L526.4 286.7L536.9 274.7L556.5 262.8L567.3 255.8L580.3 249.9L594.3 244.9L605.1 243L612.6 240.7L629.3 217.6L642.2 193.5L642.9 192.3M520.3 292.9L522.2 291.6L527.1 287.4L537.6 275.5L557.2 263.6L567.7 256.7L580.6 250.9L594.3 246L605.5 243.9L613.2 241.6L630.3 218L643 194.1L644.1 192.3M520.3 294.3L522.9 292.5L527.8 288.3L538.3 276.4L557.5 264.8L568.4 257.7L581.3 251.9L594.6 247.1L605.8 245L612.8 243L613.9 242.4L631.3 218.6L644 194.8L645.5 192.3M520.3 296.1L523.9 293.6L528.8 289.3L539.3 277.5L558.4 265.9L569.1 259L581.7 253.3L595 248.5L606.2 246.4L613.5 244.3L614.9 243.6L615.6 242.8L632.5 219.3L645.4 195.3L647.1 192.3M520.3 298.9L525.3 295.3L530.2 291.1L540.7 279.3L559.6 267.8L570 261L582.7 255.3L595.7 250.7L606.9 248.6L614.2 246.5L616.4 245.2L617.6 243.8L634.3 220.7L647.2 196.6L649.8 192.3" fill="none" stroke="#000" stroke-width=".5"/><path d="M583.6 244.7L558.4 251.9L558.4 254.1L566.7 245.2L549.8 261.4L554.2 255.5L578.1 244.4L588.4 237.6L570 234.8L564.3 247.2L568.2 252.2L565.8 243.1L574 249.5L579.7 242L573.9 243.6L564.1 249.4L548.2 262.5L588.9 245.5L571 240.8L580.1 248L565.7 239.5L579 240.9L536.4 260.1L554.4 262.5L581.7 244L539.4 266.8L552.7 253.8L590.3 239.5L535.1 267.5L570.8 243.8L561.5 251.3L559.9 241.5L589.5 237.5L541.1 270.9L585.4 246.1L547.5 257L550.5 256.1L564.2 248L570.3 246L566.9 249.3L567.8 249.6L545.1 260.7L549 247.6L549.5 263.4L581.6 243L541.8 267.7L554.8 251.8L557.1 255.6L561.6 253L552.4 254L541.1 259.6L573.1 248.9L567.6 247.6L541 267.4L551.9 264.1L599.5 239.6L576.9 242.6L549.1 258L566.3 250.1L569.2 247.4L597.5 236.5L550.8 256.4L543.8 266.5L546.2 249.5L585.2 246.5L547.6 264.1L549.2 239.3L548.7 254.2L539 270.2L559.4 241.7L558.1 252.8L584.5 238.7L583.5 244.5L548.7 261.4L543.9 267.6L572.7 243.9L558.8 247.4L551.9 249.6L546.9 261.8L577.8 243L571.3 242.9L537 269.2L545.8 261.3L564.1 246L566.9 249.6L562.7 246.3L561.2 246.9L554.5 258.3L591.5 243.1L550.2 254.9L556.4 245.9L594.8 242.6L566.2 248.9L571.9 238.9L574.2 242.1L563.8 244.6L561.5 244.9L578.4 245.1L582.6 248.1L558.7 244.4L555.1 255.3L535 273.7L554.8 261.2L559.2 253.3L554.3 255L533.2 266.6L580.8 241.9L597.2 242.1L547 258.7L572.7 247.5L548.1 256.3L569.7 241.4L584.3 241.1L549.2 264.6L567.4 249L591.1 244.6L571.6 244.9L555.6 244.6L554.4 256.6L590.1 240.7L587.5 244.6L585.4 242.8L553.4 248.7L555.7 252.2L551 262.5L555 248.6L543.3 269.1L584.2 241L543.1 268.6L551.9 252.2L592.1 244.1L560.2 246.3L583.6 246.9L581 243L554.9 248.1L553.1 254.8L558 249.4L602.4 237.1L558.7 247.7L558.8 250L550.2 264L555.2 261.5L578.1 249.6L544 268.5L556.4 252.3L561.9 255.2L551.8 259.5L537.3 271.3L563.7 247.1L565.6 246.4L543.9 259.1L591 243.6L574.8 241.3L554.1 258.4L571.6 244.2L576.6 242.8L545.2 265.4L580.3 240.6L542.2 265.3L603.6 241.7L592.8 240.7L568 250.9L548.1 260L539.7 266.9L553.1 263.4L566.2 248.4L550.7 245.6L551.9 248.1L574.1 248.7L592.2 243.2L556.8 247.6L547.7 257.4L569.6 251L580 235.8L564.6 239.8L588.9 240.2L538.1 259.3L554.2 257.5L566.3 240.9L545.4 264.1L588.1 237.7L542.3 267.3L594.5 242.6L584.7 242.5L553 253L584.6 243.5L557.3 246.2L595.1 241.6L577.3 240.6L565.4 250L538.5 269L584.5 237.2L564.9 242.8L574.3 238.9L541.3 264.9L559.6 246.7L586.4 239L566.9 240.2L575.2 234.9L542.7 268L598.3 243L558.5 259.1L575.7 242.1L597.4 239.6L566.1 238.2L542.4 256.6L584.7 242.5L551.7 258.9L553.4 249.6L548.8 248.1L557 260.9L552.4 261.4L568.4 242.1L580 231.1L592.8 243.5L574.7 239.4L548.9 259.3L595.6 241.9L564.6 240.5L541.6 266.2L540.7 263.3L576.1 240.6L558.6 245.7L576.1 243.8L548 254L564.5 249.9L570 246L581.8 244.7L572.4 246.5L569.3 249L549 261.3L541.6 265.4L545.9 261.9L567.2 242.8L555.2 259.5L575.6 250.4L552.5 251.6" fill="none" marker-start="url(#mPT)" marker-mid="url(#mPT)" marker-end="url(#mPT)"/><path d="M661.8 261.6L649.4 286L570.9 254.1L575.9 275L599.4 297.5L657.8 266.2L617.1 267.7L607.7 304.4L536.6 278.6L584.3 272.9L638.8 303.4L585.2 251.1L584.3 282.5L613.7 268.8L651.7 279.1L601 254.4L623.2 272L610.1 262.7L612.1 269.8L544.1 275.7L649.4 290.6L638.7 295.6L625.6 276.6L619.3 257L622 297.2L615.3 278.3L645.2 296.2L614.8 295.7L584.1 288.4L631.2 306.6L614.8 302.2L655.1 269.2L653.9 276.9L654.6 260.3L595.4 289.5L611.4 291.8L636.6 295.4L644.1 302.8L601.9 252.5L591.4 290.1L546 269.9L642.3 289.7L592.1 285.8L667.4 265.1L587.1 274.4L606.6 287.5L606.5 247.8L600.7 248.2L588.6 265.7L578.2 278L620.1 306.6L621.3 293.6L652.6 276L632.8 299.3L586.6 286.2L597.9 304L651.5 268.1L647.4 281.9L607 298.7L583.4 266.1L537.5 281.5L655.2 293.4L541.8 279.8L655.8 277.5L596.1 296L537.5 274.8L587.8 284.5L617.6 261.9L596.5 293.3L634.5 300.1L642.2 293.6L605.4 266.3L658.7 287L592.1 283.6L603.6 301.1L632.9 293.4L653.6 272.6L613.2 257.4L585.4 283.6L581.2 266.2L584.8 271L543.7 282.9L588.9 262.4L634.3 307.2L643.6 291.3L607.3 255.6L652.7 271.9L629.7 270.5L645.4 295.5L658 283.9L591.2 285.2L538.4 277.7L601.5 291.2L585.8 281.9L615.2 298.6L619 302.8L586.4 293.4L618.8 287.5L583.7 270.7L653.4 290.3L612.9 261.9L581.7 290.7L576.3 271.8L581 250.1L617.4 270.3L620.8 264.8L625.8 268.4L555.3 262.7L630.1 299.1L657.6 274.5L652 265L647.7 294.7L540.4 281.1L594.7 280.2L653.4 269.6L603.4 296.5L647.9 289.7L649.6 268.9L663.7 272.2L662.7 277.7L627.7 306.1L608.8 246.7L633.1 298.3L542.5 276L616.8 304.9L596.8 286.8L645.5 290.4L602.9 254.7L628.1 305.4L656.8 256.9L544.4 279L660.9 269.6L653.9 281.1L612.9 301.3L626 308.4L593.8 249.9L644.6 291.1L640.7 293.1L615.9 276.3L627.7 299L601.3 294.6L616.2 296.9L595.1 249.9L602.8 291.6L607.9 242.5L602.9 296.5L585.9 266.5L566.6 256.2L652.5 263.4L645.8 299.7L594.8 283.5L634.2 298.5L582 267.8L581.3 264.1L657.1 276.9L611 256.9L588.7 295.3L616.1 275.1L655.8 279.6L651.2 288.1L650.2 260.8L609 242.8L616.4 277.4L582.8 285.8L635.3 299L583.2 279.6L657.3 273L585.5 285L577.8 270.7L615.2 276L554.3 274.1L578.2 272.6L587.2 288.7L624.3 305.5L606.2 270.5L610 270.3L605.6 294.1L598.4 250.9L616.6 297.5L589.6 246.7L588.3 266.2L542.1 281L661.9 267.5L619 279.8L550.8 281.2L599.5 297.4L593.6 295.8L615.6 269.6L662.8 270L609.4 264.4L632 312.4L596.9 285.1L549.1 271L661.5 288.7L627.6 274L662.2 275.5L616.1 298.6L613.9 249.9L643.4 298.6L591.7 284L623.3 301.4L533.7 283.7L620.4 297.8L580.1 276.1L615.6 266L602.9 245.7L620.6 296.1L646.9 297.4L643.2 299.8L575.9 268.5L594.4 252.2L659.1 265.9L639.7 291.7L631.5 295.5L618.9 269.6L648.3 293.4L644.5 293.9L602 247.1L592.2 297.3L618 300.4L668.7 265.3L607.2 299.9L597.1 248.5L657.5 264.3L655.4 269.3L538.5 275.5L621.5 279.2L615.4 254.7L609.3 259.9L536.5 275.9L640.5 303L658.3 289.9L633.9 288L656.4 276.2L651.8 273.4L579.2 267.4L615.3 271.1L651.1 289.8L614.4 273.5L623 266.8L597.9 251.4L579.3 267L659.5 275.5L606.6 257.2L619.2 261.3L616.6 265.2L580.8 260.1L578 250.6L628.1 293.6L645.7 296.3L627.4 301.6L618.3 269.4L634.3 303.4L622.8 271.6L604.5 253.3L594.9 299.7L608.3 310.3L649.5 276.8L542.5 275.2L610.4 249.1L613.8 285.7L604.4 257.8L615.4 257.3L611.3 275.4L587.9 246.5L586.1 279.1L591.8 247.4L585.3 287.6L654.2 276.5L643 295.2L630.9 306.1L660.4 278L635.2 299.4L612.5 284.6L656.6 271.2L563.1 258.2L657.3 282.3L595.3 248.7L595.9 244.2L659.2 273.6L608.6 253.6L616.1 302.2L604.5 298.6L618.5 262.7L581.2 272.1L596 244.9L652.4 289.7L595.2 275.4L651.6 281.7L580.9 291.7L545.3 276.9L629 280.3L615.1 304.2L618.8 303.5L578 277.9L627.7 271.7L616.9 261.8L605.1 250.3L633.5 288L541.1 280.4L602.1 291L603.9 251.8L600.8 301.2L592.3 289.6L587.3 291.3L604.8 263.3L595 294.1L632.5 296L644.9 292.5L586.8 283.8L649.8 258.3L589 255L608.5 249.9L590 248.3L586.6 249.6L599.9 251.6L608 292.7L640.9 302.7L611.5 309.8L598.2 288.8L638.4 293.1L605.1 243.3L544.7 273.6L590.7 285L661 264.4L612.2 261L627.6 270.5L660.3 281.6L590.8 257.2L587 246.6L597.9 252.4L628.1 299.8L587.3 291.4L602.9 301.5L660.6 276L610.5 258.5L611 308.4L611.4 298.4L584.3 248.7L595 294L607.7 298L650.2 289.2L538.4 276.7L655.1 274.2L588.5 248.8L650.9 283.9L544.4 272.1L627.7 300.6L654.1 288.4L616.3 286.9L548.9 288.1L654.7 280.9L619.9 282.5L587.4 289.3L578.6 272.3L616.7 298.1L648.8 290.5L601.2 303L607.4 262L580.1 269.8L618.6 297.7L615.9 271.6L617.8 262.4L599.7 286.7L551.4 270.4L626.8 271.8L576.1 273.9L548.9 274.8L606.3 301.3L579.4 266.2L587.2 283.6L635.7 300.1L669.7 277.4L603.2 296.8L607.5 288.7L598.8 288.7L596.3 286.7L600.2 243.4L613.2 294.4L598 246.5L585.4 267.6L583.6 273.9L600.3 296.4L598.6 249L601.8 249.9L590.1 286.9L652 273.6L636.8 306.9L593.1 289.3L616.2 263.4L633 305.5L538.4 283.3L622.2 261.9L622.4 266L598.3 282.1L616.8 293.9L556.2 273L635.2 295.7L584.5 270.3L605.6 255.1L602.6 299.5L589.7 286.5L614.9 259.1L604.5 301.7L543.1 282.5L611.3 256L657.4 268L650.3 287.7L591.6 289.5L631.5 299.7L637.7 308.1L617.7 273.7L596.9 287.9L650.4 286.4L644.8 282.5L622.6 288.2L608 248L648.5 289.2L616.5 296L639.2 288.1L578.8 278.4L657.6 292.2L631.1 293.5L600.8 298.7L647.5 294.1L664.2 274.1L542.9 270L615.9 272.1L623.4 299.6L582 251.2L617.7 251.9L588.4 299.1L583.9 270.9L612.7 258.6L612.9 299.4L631.1 299.6L612 246L621.9 285L581.5 268.2L641.3 291.9L624.7 298L635.5 304.6L606 300.4L602.8 243.6L582.1 274L587.7 274.6L657.3 286.9L661.8 256.4L645.9 294.5L623.2 259.1L583.4 286.4L550.4 283.3L601.3 293.5L599.4 297.7L583 271.7L642.3 293.1L600.2 292.7L653.8 283.7L604 297.5L597.7 290.6L586.6 274.6L592.6 258.6L614.4 278.6L642.7 289.2L659.6 276.3L544.3 279.6L628.2 300.9L545.5 270.6L605.7 296.8L587.2 273.5L604.3 294.7L654.2 290.3L601.5 289.1L581.9 285.2L605.5 296L614.9 276.8L656 269.5L536.5 275.3L621.8 303.3L608.2 301.5L652.8 293.9L576.1 265.6L587.8 277.9L626.1 295.1L650.9 288.6L582.4 270.7L653.3 289.2L549.9 287.3L609.7 264.1L585.8 285.1L661.8 270.1L615.7 284.5L599.2 292.9L582.4 284L665.3 268.5L667 269.3L655.2 268L615.5 296.8L619.9 299.6L597.6 246.6L592.3 283.1L580.3 271.4L648.5 296.1L601.3 253.7L614.4 264.4L621 273.7L579 276.2L655.6 289.1L618.3 289.9L579.1 274.4L536.1 275.7L543 282.7L664.1 271.7L623.6 301.4L611.4 263.8L608 260L645.3 293.3L653.9 283.1L600.1 295.2L598.5 303.8L661.9 264.9L622 304.7L618.4 300.5L655.3 285L637.5 296.6L584.1 273.9L619.6 259L578.8 264.2L583.9 261.1L587.9 248.4L657.9 282L600.7 253.4L615 263.4L611.4 261.6L581.4 266.7L634.3 304.4L663.3 269.3L594.2 248.4L627.6 307.6L655.5 292.4L644.1 282.9L630.9 303.7L590.6 245.8L601.8 251.7L547.1 268L641.8 299.6L578.7 251.8L645.2 292.3L655.3 274.8L655.6 262.8L592.7 288.1L628.3 269L606.6 248.1L621.3 275.7L613.4 274.9L667.2 277.5L615.8 301.4L615 299.3L616.1 262.1L584.4 280.8L589.1 285.8L576.5 273L644.4 292.8L635.1 305.7L650.3 302.6L598.8 305.4L586.2 277.2L636.2 298.8L586.5 294.3L605.3 292.7L639.4 298.8L610.2 297.1L609.4 251.9L595.8 288.2L640.8 299.1L637.6 297.6L645.9 296.7L618.9 301.4L659.3 266.2L610.1 301L614.4 302.4L661 287.8L602.5 297.1L627.9 267.5L628.7 273L616.2 303.3L608.3 252.2L603.3 258.2L585.7 251.2L538.7 277.8L585.4 279.5L653.7 270.1L586.4 283.2L635.8 299.3L663 281.2L587 259.4L587.4 253.5L537.5 276.1L608.3 252.7L654 258.3L582.8 264.4L587.2 248.6L604.6 305L589.6 280.7L608.7 259.3L547.7 275.8L636.5 273.2L617 256L600 255.7L600.1 248.9L575.1 266.2L606.1 295.7L592.8 293.8L543.1 272.6L588.6 289.6L607.9 254.7L617.3 304.4L661.3 271.3L650.3 290.2L546.4 272.2L593.3 285.9L618.2 280.1L571.9 253.5L579.8 255.9L615.1 261.5L577.6 259.8L635.1 295.3L594.2 293.3L588.9 295L660.6 274.5L644.5 287L659.2 262.9L623.9 295.8L658 276L619.9 276.8L615.6 257.9L622.7 300.6L623.3 280.7L616.8 280.4L621.8 260.3L626.7 301.1L621.4 270L656.6 265L605.7 275.6L623.1 272.1L630.3 302.2L578.6 277.4L609.1 256.1L614.8 305.4L588.6 287.8L611.4 256.5L610 299L586.6 287.1L615.9 264.3L611.3 256.7L605.1 293.8L623 271.3L649.1 285.9L582.6 272.3L580.5 258.7L600.1 250.8L586.4 283.3L586.7 286.7L639.5 295.5L632.3 294.5L601.2 296.3L580.3 281L614.6 258.6L655.6 281.6L656.5 275.1L601.2 253.7L586 279.8L589 271.4L643.4 288.6L614.7 300.9L640 306.2L588.4 246L604.4 298.1L605.5 252.2L644.3 283.7L642.8 289.8L605.5 252.1L654.1 269.6L618.5 272.2L629 299.5L596.2 254.4L616.8 264.6L598.5 297.5L589.6 288.5L601 287.2L656.8 289.5L612.4 265.5L613.2 251.9L635.4 303L607.5 249.2L647.1 286L623 268.4L654.9 293L661.1 277.6L547.2 276L621.4 269.7L594 281.5L621.3 301.5L537.5 277.4L570.8 278.2L654.9 282.3L610.4 259.7L655.2 272.9L656.4 286.1L613.3 262.8L648.7 298.7L616.5 276.6L591.5 245.2L649.4 294L552.2 276.6L587.5 265.3L597.6 305.1L604.2 255.3L617.3 296.6L583.8 280.9L590.7 272.5L587.6 297L606.9 303.8L653.5 281.6L603.8 261.7L595.6 296.6L634.2 300L661.5 267.6L596.9 252.1L618.6 248.3L645.7 296.1L649.6 296.7L608.2 295.9L631.3 302.5L605.4 251.6L653.5 285.7L624 301.9L622.5 274.1L638.5 302.7L583 272.7L598.1 285.4L636.2 295.1L655.3 272.1L599 247.9L619.6 262.2L594.2 270.9L539.9 289L617.1 299.2L585.5 291L539.4 283.3L613.3 263.2L589.1 280.7L628.7 300L614.1 296.7L612.3 305L623.3 283.7L609.4 306.4L616.2 293.7L642.3 285.5L593 244.9L594.5 300.2L586.5 278.5L601.9 300.7" fill="none" marker-start="url(#mPS)" marker-mid="url(#mPS)" marker-end="url(#mPS)"/></g><rect x="520.3" y="192.3" width="163.5" height="158.8" fill="none" stroke="#bfbfbf" stroke-width="1.3"/><path d="M391.5 75.3L388 82.9L395 82.9Z" fill="#fc8d62" stroke="#3a2418" stroke-width=".6" stroke-linejoin="miter"/><path d="M588.4 75.8L584.9 83.4L591.9 83.4Z" fill="#fc8d62" stroke="#3a2418" stroke-width=".6" stroke-linejoin="miter"/><path d="M391.7 266.3L387.5 274.5L395.9 274.5Z" fill="#fc8d62" stroke="#3a2418" stroke-width=".6" stroke-linejoin="miter"/><path d="M588 265.7L583.8 274.1L592.2 274.1Z" fill="#fc8d62" stroke="#3a2418" stroke-width=".6" stroke-linejoin="miter"/><path d="M391.2 80.2L394.9 82.5L392.4 84.4Z" fill="#000"/><path d="M452.4 161L460.7 171.6" stroke="#111" stroke-width=".6" stroke-dasharray="1.2 .5" fill="none"/><path d="M268.55 6.7V346" stroke="#000" stroke-width="2.4"/><path d="M634 111C645.4 149.4 658.2 213.1 611.5 244.5" fill="none" stroke="#000" stroke-width=".8" stroke-dasharray=".8 1.32"/><path d="M608 247L610.6 241.6L614 245Z" fill="#000"/><path d="M140.5 274.3H152.7V311H137M152.9 293.5L204.6 340.2" fill="none" stroke="#000" stroke-width="1.6" stroke-dasharray="1.6 1.85"/><g fill="#000" stroke="#000" stroke-width=".1" opacity=".999"><text x="8.5" y="8" font-size="11">a)</text><text x="281.6" y="8" font-size="11">b)</text><text x="89.5" y="7.9">Memorisation Ratio 82.6%</text><text x="89.5" y="198.5">Memorisation Ratio 41.4%</text><text x="30.7" y="172" text-anchor="middle">−1</text><text x="61.9" y="178.5" text-anchor="middle">0</text><text x="93.8" y="185.2" text-anchor="middle">1</text><text x="59.5" y="186.8" text-anchor="middle">x</text><text x="180" y="121" text-anchor="middle">1</text><text x="164.6" y="149.1" text-anchor="middle">0</text><text x="147.7" y="179.8" text-anchor="middle">−1</text><text x="180.3" y="150" text-anchor="middle">y</text><text x="189" y="27.6" text-anchor="middle">1.0</text><text x="186" y="81.6" text-anchor="middle">0.0</text><text x="184.9" y="107.7" text-anchor="middle">−0.5</text><text x="203.1" y="81.6" text-anchor="middle">z</text><text x="33.1" y="358.6" text-anchor="middle">−1</text><text x="64.5" y="364.6" text-anchor="middle">0</text><text x="96.9" y="371.8" text-anchor="middle">1</text><text x="59.7" y="373.1" text-anchor="middle">x</text><text x="179.8" y="309.6" text-anchor="middle">1</text><text x="163.8" y="337.7" text-anchor="middle">0</text><text x="146.7" y="368.2" text-anchor="middle">−1</text><text x="180.3" y="338" text-anchor="middle">y</text><text x="189" y="218.5" text-anchor="middle">1.0</text><text x="186.5" y="272.6" text-anchor="middle">0.0</text><text x="185.3" y="298.5" text-anchor="middle">−0.5</text><text x="203.1" y="272.6" text-anchor="middle">z</text><text x="306.5" y="80.1" text-anchor="middle" transform="rotate(-90 306.5 80.1)">Non-memorising</text><text x="316.8" y="80.1" text-anchor="middle" transform="rotate(-90 316.8 80.1)">DNN</text><text x="306.5" y="270.8" text-anchor="middle" transform="rotate(-90 306.5 270.8)">Memorising</text><text x="316.8" y="270.8" text-anchor="middle" transform="rotate(-90 316.8 270.8)">DNN</text><text x="405.8" y="172.6" text-anchor="middle">z = 0</text><text x="405.8" y="363.6" text-anchor="middle">z = 0</text><text x="601.6" y="172.6" text-anchor="middle">z = 1</text><text x="601.6" y="363.6" text-anchor="middle">z = 1</text><text x="460.8" y="176.8" font-size="8.2">Sample with unique feature</text><text x="659" y="181.2" text-anchor="middle" transform="rotate(-90 659 181.2)">Distortion in boundary</text><text x="207.1" y="352.1" text-anchor="middle" font-size="10.8">Added noise</text><text x="208.3" y="364.5" text-anchor="middle" font-size="10.8">along z</text></g></svg></body></html>
